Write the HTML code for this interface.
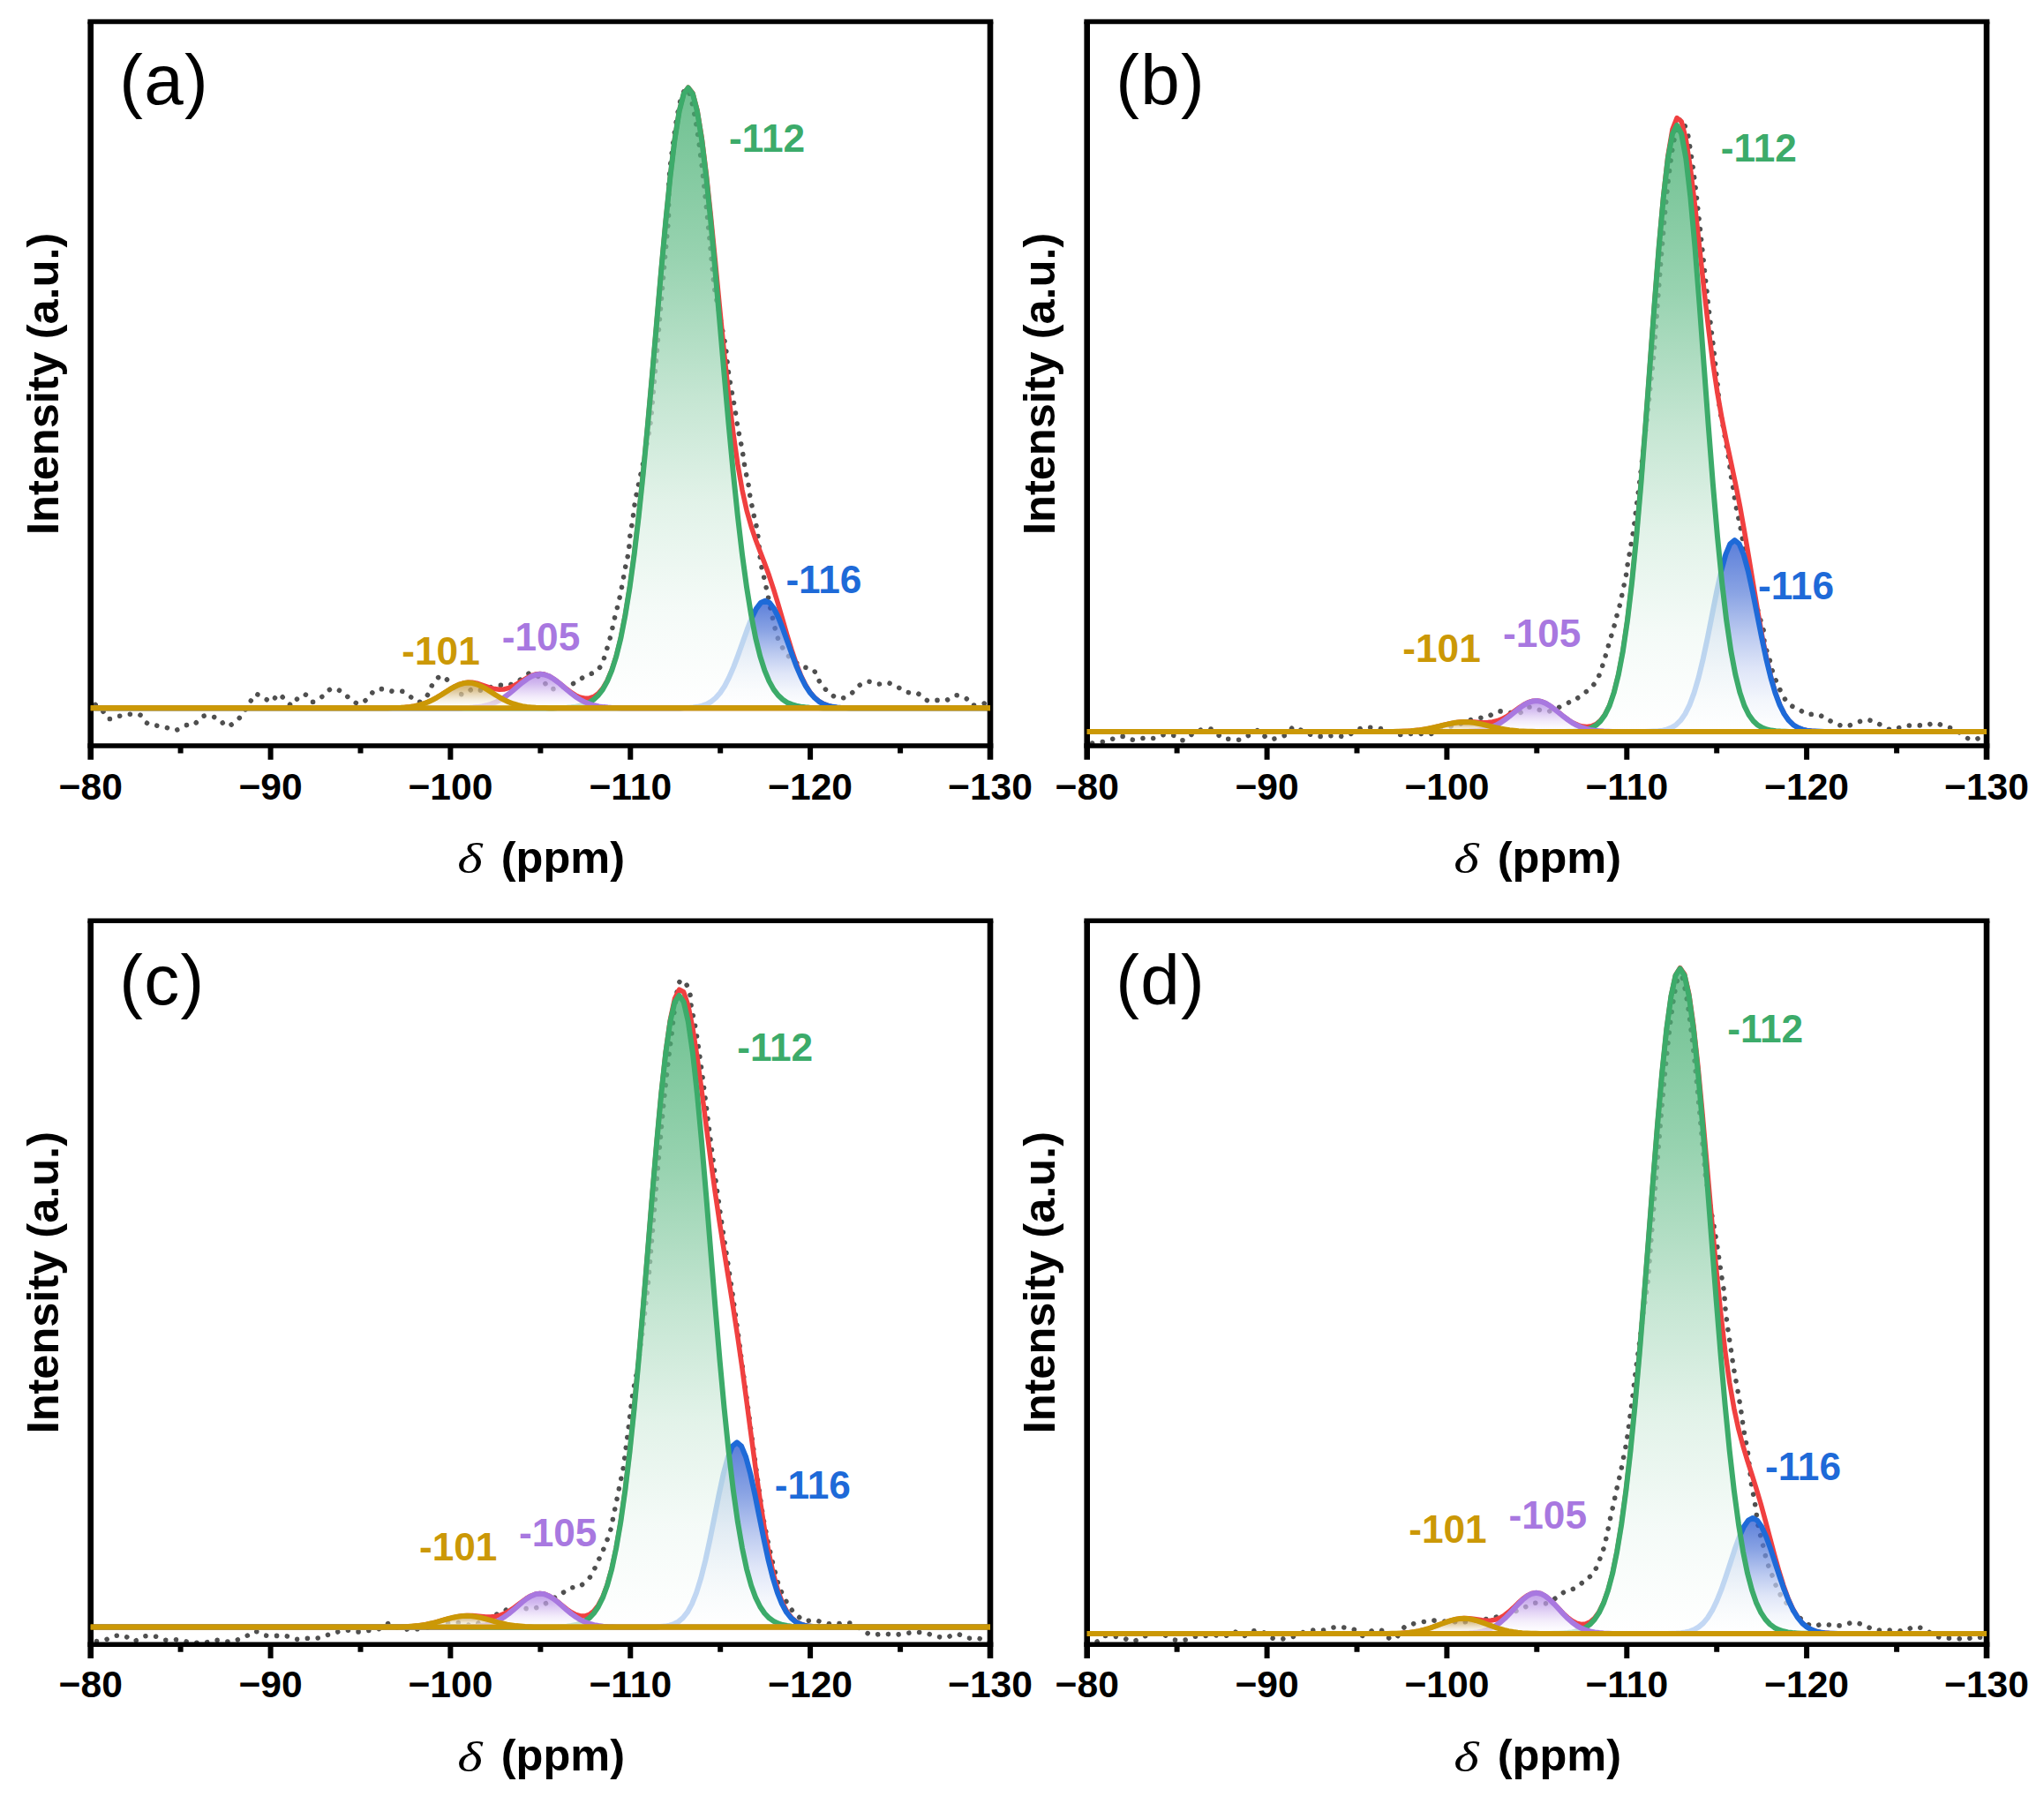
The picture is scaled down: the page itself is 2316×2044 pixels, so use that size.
<!DOCTYPE html>
<html lang="en"><head><meta charset="utf-8"><title>29Si NMR deconvolution</title>
<style>html,body{margin:0;padding:0;background:#fff}svg{display:block}text{font-family:"Liberation Sans",Arial,Helvetica,sans-serif}.tk{font-weight:700;font-size:42.6px;fill:#000;text-anchor:middle}.pl{font-weight:700;font-size:44.2px;text-anchor:middle}.ax{font-weight:700;font-size:50.5px;fill:#000}.pn{font-size:80px;fill:#000;letter-spacing:1.3px}.dl{font-family:"Liberation Serif","Times New Roman",serif;font-style:italic;font-size:48px;fill:#000}</style></head><body>
<svg width="2316" height="2044" viewBox="0 0 2316 2044">
<rect width="2316" height="2044" fill="#fff"/>
<defs>
<linearGradient id="gg" x1="0" y1="0" x2="0" y2="1"><stop offset="0" stop-color="#3cab6a" stop-opacity="0.74"/><stop offset="0.27" stop-color="#73c394" stop-opacity="0.74"/><stop offset="0.5" stop-color="#b1ddc3" stop-opacity="0.74"/><stop offset="0.67" stop-color="#d8eee1" stop-opacity="0.74"/><stop offset="0.84" stop-color="#f1f9f5" stop-opacity="0.74"/><stop offset="1" stop-color="#ffffff" stop-opacity="0.74"/></linearGradient>
<linearGradient id="gb" x1="0" y1="0" x2="0" y2="1"><stop offset="0" stop-color="#2151cc" stop-opacity="0.74"/><stop offset="0.27" stop-color="#5f82da" stop-opacity="0.74"/><stop offset="0.5" stop-color="#a6b9eb" stop-opacity="0.74"/><stop offset="0.67" stop-color="#d3dcf5" stop-opacity="0.74"/><stop offset="0.84" stop-color="#eff3fb" stop-opacity="0.74"/><stop offset="1" stop-color="#ffffff" stop-opacity="0.74"/></linearGradient>
<linearGradient id="gp" x1="0" y1="0" x2="0" y2="1"><stop offset="0" stop-color="#a878e0" stop-opacity="0.72"/><stop offset="0.27" stop-color="#c09ee9" stop-opacity="0.72"/><stop offset="0.5" stop-color="#dcc9f3" stop-opacity="0.72"/><stop offset="0.67" stop-color="#eee4f9" stop-opacity="0.72"/><stop offset="0.84" stop-color="#f9f6fd" stop-opacity="0.72"/><stop offset="1" stop-color="#ffffff" stop-opacity="0.72"/></linearGradient>
<linearGradient id="gy" x1="0" y1="0" x2="0" y2="1"><stop offset="0" stop-color="#b98a2a" stop-opacity="0.72"/><stop offset="0.27" stop-color="#cdab66" stop-opacity="0.72"/><stop offset="0.5" stop-color="#e3d0aa" stop-opacity="0.72"/><stop offset="0.67" stop-color="#f1e8d4" stop-opacity="0.72"/><stop offset="0.84" stop-color="#faf7f0" stop-opacity="0.72"/><stop offset="1" stop-color="#ffffff" stop-opacity="0.72"/></linearGradient>
<clipPath id="cpa"><rect x="102.7" y="24.5" width="1019.3" height="820.5"/></clipPath>
<clipPath id="cpb"><rect x="1231.7" y="24.5" width="1019.3" height="820.5"/></clipPath>
<clipPath id="cpc"><rect x="102.7" y="1043.3" width="1019.3" height="819.9"/></clipPath>
<clipPath id="cpd"><rect x="1231.7" y="1043.3" width="1019.3" height="819.9"/></clipPath>
</defs>
<g id="panel-a">
<g clip-path="url(#cpa)" fill="none" stroke-linejoin="round" stroke-linecap="round">
<path d="M100 790 C101 791.2 103.7 794.5 106.3 796.9 C108.9 799.3 112.9 801.6 115.7 804.5 C118.4 807.4 119.4 813.2 122.5 814.3 C125.6 815.5 130.2 812.4 134.2 811.6 C138.3 810.7 142.9 809.5 147 809.2 C151 809 155.4 808.4 158.7 810 C162 811.7 163.7 817.3 166.5 819.2 C169.4 821.2 172.3 820.9 175.9 821.8 C179.5 822.6 184.2 823.4 188.1 824.3 C191.9 825.2 195.5 827.7 199.2 827.2 C203 826.8 207.1 822.8 210.6 821.8 C214 820.7 216.8 822.5 219.8 821 C222.7 819.4 225.3 814 228.2 812.4 C231.1 810.7 233.6 810.8 237 811.2 C240.3 811.6 245 813 248.3 814.9 C251.7 816.9 253.6 822.7 256.9 822.9 C260.3 823.1 265.5 818.8 268.7 816.1 C271.9 813.4 273.7 810 276.1 806.7 C278.5 803.4 280.9 799.8 283 796.5 C285.1 793.2 286.2 787.7 288.8 786.7 C291.5 785.7 295.5 789.1 298.6 790.5 C301.8 791.8 305.1 795.6 307.8 795 C310.6 794.3 312.7 786.9 315.3 786.5 C317.8 786.2 320.5 790.7 323.1 792.8 C325.7 794.9 328.6 799.5 330.9 799.3 C333.3 799 334.7 793.5 337.2 791.4 C339.7 789.4 343 786.3 345.8 786.9 C348.6 787.6 350.7 795 354 795.3 C357.3 795.7 361.9 791.4 365.6 788.9 C369.2 786.3 372.4 781 375.9 780.1 C379.5 779.2 383.6 781.8 386.9 783.6 C390.2 785.4 392.7 788.8 395.9 791 C399.1 793.3 402.9 797.1 406.3 797.3 C409.6 797.5 413 794.5 416 792 C419 789.6 421.3 784.5 424.3 782.6 C427.2 780.7 430.3 780.6 433.7 780.7 C437 780.8 440.6 782.7 444.4 783.2 C448.3 783.7 452.9 782.3 456.8 783.6 C460.6 784.9 464.4 789.3 467.5 791.2 C470.7 793.2 472.8 796.1 475.7 795.3 C478.6 794.6 482.5 790.3 484.9 786.9 C487.3 783.6 487.8 778.9 490.2 775.4 C492.6 771.9 496.4 766.8 499.2 766 C502.1 765.2 504.4 767.9 507.2 770.7 C510.1 773.4 513.5 779.8 516.4 782.4 C519.3 785.1 521.4 787.1 524.7 786.7 C527.9 786.4 532.5 781.3 536 780.5 C539.5 779.7 541.4 782.7 545.8 782 C550.2 781.4 557.8 777.5 562.4 776.6 C567.1 775.6 570.2 777 573.8 776.6 C577.4 776.1 580.6 775.2 584 773.6 C587.3 772.1 590.6 769 593.7 767.2 C596.8 765.3 599 761.9 602.5 762.5 C606.1 763.1 611.6 767.7 614.9 770.7 C618.1 773.6 619.3 778.6 622.1 780.1 C625 781.6 628.5 780.2 631.9 779.7 C635.3 779.2 639.1 778.3 642.7 777.1 C646.2 776 650 774.5 653.4 772.6 C656.8 770.8 659.8 767.7 663.2 765.8 C666.6 763.9 670.9 763.6 674 761.5 C677.1 759.4 679.8 756.4 681.8 753.1 C683.8 749.7 684.5 745.2 685.7 741.3 C687 737.5 688.1 733.9 689.2 730 C690.4 726.1 691.6 721.8 692.6 717.8 C693.5 713.9 694.2 710 695.1 706.1 C696 702.2 696.9 698.2 697.8 694.4 C698.8 690.5 699.9 686.9 700.8 683 C701.7 679.2 702.5 675.3 703.3 671.3 C704.1 667.3 705 663.1 705.7 659.1 C706.4 655.2 706.9 651.4 707.6 647.4 C708.4 643.4 709.4 639.2 710.2 635.3 C711 631.3 712 627.7 712.5 623.5 C713.1 619.3 712.9 614.6 713.5 610 C714 605.4 715 600.7 715.7 596.1 C716.4 591.4 717.1 586.8 717.8 582.1 C718.4 577.5 718.9 572.8 719.6 568.2 C720.4 563.5 721.4 558.9 722.4 554.2 C723.3 549.6 724.4 544.9 725.4 540.3 C726.4 535.6 727.4 531 728.4 526.3 C729.4 521.7 730.4 517 731.3 512.4 C732.2 507.7 733 503.1 733.8 498.4 C734.7 493.8 735.6 489.1 736.3 484.5 C737 479.9 737.5 475.2 738 470.6 C738.4 465.9 738.8 461.3 739.2 456.6 C739.6 452 740 447.3 740.4 442.7 C740.8 438 741.2 433.4 741.7 428.7 C742.1 424.1 742.5 419.4 742.9 414.8 C743.3 410.1 743.7 405.5 744.1 400.8 C744.5 396.2 744.9 391.5 745.3 386.9 C745.7 382.2 746.1 377.6 746.5 372.9 C746.9 368.3 747.3 363.6 747.7 359 C748.1 354.4 748.5 349.7 748.9 345.1 C749.3 340.4 749.7 335.8 750.1 331.1 C750.5 326.5 750.9 321.8 751.3 317.2 C751.7 312.5 752.1 307.9 752.5 303.2 C752.9 298.6 753.3 293.9 753.8 289.3 C754.2 284.6 754.6 280 755 275.3 C755.5 270.7 755.9 266 756.3 261.4 C756.7 256.7 757.2 252.1 757.4 247.4 C757.6 242.8 757.5 238.1 757.6 233.5 C757.6 228.9 757.7 224.2 757.8 219.6 C757.9 214.9 757.8 210.3 758 205.6 C758.3 201 758.6 196.3 759.1 191.7 C759.5 187 760.2 182.4 760.7 177.7 C761.3 173.1 761.9 168.4 762.5 163.8 C763.1 159.1 763.7 154.5 764.4 149.8 C765.1 145.2 765.8 140.5 766.6 135.9 C767.4 131.2 768.1 126.6 769.2 121.9 C770.2 117.3 771.3 111.6 772.8 108 C774.3 104.4 776.8 100.5 778.3 100.5 C779.8 100.5 780.6 104.4 781.8 108 C783 111.6 784.4 117.6 785.5 122.3 C786.5 127.1 787.3 131.9 788.2 136.7 C789 141.5 789.7 146.3 790.4 151.1 C791.1 155.8 791.8 160.6 792.4 165.4 C793 170.2 793.6 175 794.2 179.8 C794.8 184.5 795.4 189.3 795.9 194.1 C796.5 198.9 797 203.7 797.6 208.4 C798.1 213.2 798.6 218 799.1 222.8 C799.6 227.6 800.1 232.4 800.6 237.2 C801.1 241.9 801.6 246.7 802.1 251.5 C802.5 256.3 803 261.1 803.5 265.9 C804 270.6 804.4 275.4 804.9 280.2 C805.4 285 805.8 289.8 806.3 294.6 C806.7 299.3 807.2 304.1 807.7 308.9 C808.1 313.7 808.4 318.5 809 323.2 C809.7 328 810.5 332.8 811.4 337.6 C812.3 342.4 813.5 347.2 814.4 351.9 C815.4 356.7 816.2 361.5 817.1 366.3 C818 371.1 818.9 375.9 819.8 380.6 C820.7 385.4 821.6 388.3 822.5 395 C823.4 401.7 824.1 412.2 825.3 420.8 C826.5 429.4 828.3 439.2 829.6 446.4 C830.9 453.6 831.9 458 832.9 464 C833.9 470 834.8 477.3 835.6 482.3 C836.4 487.3 837.1 490.1 837.9 494 C838.7 497.9 839.5 501.7 840.2 505.6 C840.9 509.5 841.6 513.4 842.2 517.3 C842.8 521.2 843.2 525 843.9 528.9 C844.6 532.8 845.4 536.6 846.2 540.5 C847 544.4 847.9 548.2 848.6 552.2 C849.3 556.2 849.5 560.6 850.2 564.8 C850.9 568.9 852.1 573.1 852.9 577.1 C853.7 581.1 854.4 584.9 855.2 588.8 C856 592.7 857.1 595.5 857.9 600.4 C858.7 605.3 859.3 612 860 618 C860.7 624 861 631.5 861.8 636.6 C862.6 641.8 863.7 645 864.5 649 C865.4 653 866.2 656.8 867.1 660.7 C867.9 664.6 868.8 668.5 869.6 672.4 C870.4 676.4 871.2 680.6 872 684.6 C872.8 688.6 873.6 692.4 874.5 696.3 C875.4 700.2 876.3 704.1 877.3 708.1 C878.2 712 878.9 715.9 880.2 719.8 C881.5 723.7 883.2 727.8 885.3 731.5 C887.3 735.3 889.8 739.2 892.5 742.3 C895.2 745.4 898.4 747.9 901.3 750.1 C904.3 752.4 906.8 754.2 910.1 755.6 C913.5 757 918.5 756.3 921.3 758.6 C924.1 760.8 924.7 765.8 926.8 769.3 C928.9 772.8 931.3 776.4 934 779.5 C936.7 782.6 939.6 785.8 942.8 787.7 C946 789.7 949.7 791.5 953.2 791.2 C956.7 791 960.5 788.8 964 786.3 C967.4 783.9 970.5 778.9 973.7 776.6 C977 774.2 980 772.5 983.5 772.3 C987 772 991.1 774.7 994.9 775 C998.7 775.3 1002.5 773.1 1006.4 773.8 C1010.3 774.5 1014.5 777.3 1018.2 779.1 C1021.8 780.9 1024.9 783.3 1028.5 784.4 C1032.2 785.5 1036.1 784.2 1039.9 785.8 C1043.6 787.3 1047.4 792.5 1051 793.8 C1054.6 795 1057.9 793.5 1061.4 793.4 C1064.9 793.3 1068.4 794.3 1072.2 793.4 C1075.9 792.4 1079.9 787.9 1083.9 787.7 C1087.9 787.5 1093.2 790.4 1096 792.2 C1098.9 794 1098.5 797.5 1100.9 798.5 C1103.4 799.5 1107.5 798.5 1110.7 798.1 C1113.9 797.7 1116.5 796.3 1120.1 796.1 C1123.7 796 1130.2 796.9 1132.3 797.1" stroke="#4f4f4f" stroke-width="5.6" stroke-dasharray="0.01 11.8"/>
<path d="M102.7 802.3 L107.1 802.3 L112.2 802.3 L117.3 802.3 L122.4 802.3 L127.4 802.3 L132.5 802.3 L137.6 802.3 L142.7 802.3 L147.8 802.3 L152.9 802.3 L158 802.3 L163.1 802.3 L168.2 802.3 L173.3 802.3 L178.4 802.3 L183.5 802.3 L188.6 802.3 L193.7 802.3 L198.8 802.3 L203.9 802.3 L209 802.3 L214.1 802.3 L219.2 802.3 L224.3 802.3 L229.4 802.3 L234.5 802.3 L239.6 802.3 L244.7 802.3 L249.8 802.3 L254.9 802.3 L260 802.3 L265.1 802.3 L270.1 802.3 L275.2 802.3 L280.3 802.3 L285.4 802.3 L290.5 802.3 L295.6 802.3 L300.7 802.3 L305.8 802.3 L310.9 802.3 L316 802.3 L321.1 802.3 L326.2 802.3 L331.3 802.3 L336.4 802.3 L341.5 802.3 L346.6 802.3 L351.7 802.3 L356.8 802.3 L361.9 802.3 L367 802.3 L372.1 802.3 L377.2 802.3 L382.3 802.3 L387.4 802.3 L392.5 802.3 L397.6 802.3 L402.7 802.3 L407.8 802.3 L412.9 802.3 L417.9 802.3 L423 802.3 L428.1 802.3 L433.2 802.3 L438.3 802.2 L443.4 802.1 L448.5 802 L453.6 801.8 L458.7 801.5 L463.8 801 L468.9 800.2 L474 799.1 L479.1 797.7 L484.2 795.8 L489.3 793.4 L494.4 790.7 L499.5 787.6 L504.6 784.3 L509.7 781.1 L514.8 778.1 L519.9 775.7 L525 774 L530.1 773.2 L535.2 773.3 L540.3 774.2 L545.4 775.8 L550.5 777.5 L555.6 779.3 L560.7 780.6 L565.7 781.2 L570.8 781 L575.9 779.7 L581 777.6 L586.1 774.7 L591.2 771.6 L596.3 768.5 L601.4 765.9 L606.5 764.1 L611.6 763.5 L616.7 764.1 L621.8 766 L626.9 768.9 L632 772.6 L637.1 776.7 L642.2 780.8 L647.3 784.7 L652.4 787.9 L657.5 790.2 L662.6 791.3 L667.7 791.2 L672.8 789.4 L677.9 785.7 L683 779.8 L688.1 771.2 L693.2 759.2 L698.3 743.3 L703.4 722.8 L708.4 697.1 L713.5 665.7 L718.6 628.3 L723.7 584.8 L728.8 535.7 L733.9 481.8 L739 424.4 L744.1 365.3 L749.2 306.6 L754.3 250.8 L759.4 200.5 L764.5 158.2 L769.6 126.1 L774.7 106.1 L779.8 99.1 L784.9 105.5 L790 124.8 L795.1 155.7 L800.2 196.2 L805.3 243.8 L810.4 295.6 L815.5 348.7 L820.6 400.4 L825.7 448.2 L830.8 490.4 L835.9 526.2 L841 555.3 L846.1 578.4 L851.2 596.6 L856.2 611.6 L861.3 624.9 L866.4 638.2 L871.5 652.3 L876.6 667.8 L881.7 684.5 L886.8 702.1 L891.9 719.7 L897 736.4 L902.1 751.5 L907.2 764.6 L912.3 775.3 L917.4 783.7 L922.5 789.9 L927.6 794.4 L932.7 797.4 L937.8 799.4 L942.9 800.7 L948 801.4 L953.1 801.8 L958.2 802.1 L963.3 802.2 L968.4 802.2 L973.5 802.3 L978.6 802.3 L983.7 802.3 L988.8 802.3 L993.9 802.3 L998.9 802.3 L1004 802.3 L1009.1 802.3 L1014.2 802.3 L1019.3 802.3 L1024.4 802.3 L1029.5 802.3 L1034.6 802.3 L1039.7 802.3 L1044.8 802.3 L1049.9 802.3 L1055 802.3 L1060.1 802.3 L1065.2 802.3 L1070.3 802.3 L1075.4 802.3 L1080.5 802.3 L1085.6 802.3 L1090.7 802.3 L1095.8 802.3 L1100.9 802.3 L1106 802.3 L1111.1 802.3 L1116.2 802.3 L1121.3 802.3 L1122 802.3" stroke="#f04040" stroke-width="5.5"/>
<path d="M760 802.3 L765.1 802.3 L770.2 802.2 L775.3 802.1 L780.4 801.9 L785.5 801.5 L790.6 800.8 L795.6 799.6 L800.7 797.8 L805.8 795 L810.9 790.8 L816 785 L821.1 777.3 L826.2 767.4 L831.3 755.6 L836.4 742.1 L841.5 727.7 L846.6 713.4 L851.7 700.4 L856.8 689.9 L861.9 683.1 L867 680.8 L872.1 683.1 L877.2 689.9 L882.3 700.4 L887.4 713.4 L892.5 727.7 L897.6 742.1 L902.7 755.6 L907.8 767.4 L912.9 777.3 L918 785 L923.1 790.8 L928.2 795 L933.3 797.8 L938.4 799.6 L943.4 800.8 L948.5 801.5 L953.6 801.9 L958.7 802.1 L963.8 802.2 L968.9 802.3 L974 802.3 L974 802.3 L760 802.3 Z" fill="url(#gb)" stroke="none"/>
<path d="M102.7 802.3 L107.6 802.3 L112.7 802.3 L117.8 802.3 L122.9 802.3 L128 802.3 L133.1 802.3 L138.2 802.3 L143.3 802.3 L148.4 802.3 L153.5 802.3 L158.6 802.3 L163.7 802.3 L168.8 802.3 L173.9 802.3 L179 802.3 L184.1 802.3 L189.2 802.3 L194.3 802.3 L199.4 802.3 L204.5 802.3 L209.6 802.3 L214.6 802.3 L219.7 802.3 L224.8 802.3 L229.9 802.3 L235 802.3 L240.1 802.3 L245.2 802.3 L250.3 802.3 L255.4 802.3 L260.5 802.3 L265.6 802.3 L270.7 802.3 L275.8 802.3 L280.9 802.3 L286 802.3 L291.1 802.3 L296.2 802.3 L301.3 802.3 L306.4 802.3 L311.5 802.3 L316.6 802.3 L321.7 802.3 L326.8 802.3 L331.9 802.3 L337 802.3 L342.1 802.3 L347.2 802.3 L352.3 802.3 L357.3 802.3 L362.4 802.3 L367.5 802.3 L372.6 802.3 L377.7 802.3 L382.8 802.3 L387.9 802.3 L393 802.3 L398.1 802.3 L403.2 802.3 L408.3 802.3 L413.4 802.3 L418.5 802.3 L423.6 802.3 L428.7 802.3 L433.8 802.3 L438.9 802.3 L444 802.3 L449.1 802.3 L454.2 802.3 L459.3 802.3 L464.4 802.3 L469.5 802.3 L474.6 802.3 L479.7 802.3 L484.8 802.3 L489.9 802.3 L495 802.3 L500.1 802.3 L505.1 802.3 L510.2 802.3 L515.3 802.3 L520.4 802.3 L525.5 802.3 L530.6 802.3 L535.7 802.3 L540.8 802.3 L545.9 802.3 L551 802.3 L556.1 802.3 L561.2 802.3 L566.3 802.3 L571.4 802.3 L576.5 802.3 L581.6 802.3 L586.7 802.3 L591.8 802.3 L596.9 802.3 L602 802.3 L607.1 802.3 L612.2 802.3 L617.3 802.3 L622.4 802.3 L627.5 802.3 L632.6 802.3 L637.7 802.3 L642.8 802.3 L647.9 802.3 L652.9 802.3 L658 802.3 L663.1 802.3 L668.2 802.3 L673.3 802.3 L678.4 802.3 L683.5 802.3 L688.6 802.3 L693.7 802.3 L698.8 802.3 L703.9 802.3 L709 802.3 L714.1 802.3 L719.2 802.3 L724.3 802.3 L729.4 802.3 L734.5 802.3 L739.6 802.3 L744.7 802.3 L749.8 802.3 L754.9 802.3 L760 802.3 L765.1 802.3 L770.2 802.2 L775.3 802.1 L780.4 801.9 L785.5 801.5 L790.6 800.8 L795.6 799.6 L800.7 797.8 L805.8 795 L810.9 790.8 L816 785 L821.1 777.3 L826.2 767.4 L831.3 755.6 L836.4 742.1 L841.5 727.7 L846.6 713.4 L851.7 700.4 L856.8 689.9 L861.9 683.1 L867 680.8 L872.1 683.1 L877.2 689.9 L882.3 700.4 L887.4 713.4 L892.5 727.7 L897.6 742.1 L902.7 755.6 L907.8 767.4 L912.9 777.3 L918 785 L923.1 790.8 L928.2 795 L933.3 797.8 L938.4 799.6 L943.4 800.8 L948.5 801.5 L953.6 801.9 L958.7 802.1 L963.8 802.2 L968.9 802.3 L974 802.3 L979.1 802.3 L984.2 802.3 L989.3 802.3 L994.4 802.3 L999.5 802.3 L1004.6 802.3 L1009.7 802.3 L1014.8 802.3 L1019.9 802.3 L1025 802.3 L1030.1 802.3 L1035.2 802.3 L1040.3 802.3 L1045.4 802.3 L1050.5 802.3 L1055.6 802.3 L1060.7 802.3 L1065.8 802.3 L1070.9 802.3 L1076 802.3 L1081.1 802.3 L1086.1 802.3 L1091.2 802.3 L1096.3 802.3 L1101.4 802.3 L1106.5 802.3 L1111.6 802.3 L1116.7 802.3 L1122 802.3" stroke="#1e6ad8" stroke-width="6"/>
<path d="M626.9 802.2 L632 802.1 L637.1 801.9 L642.2 801.7 L647.3 801.3 L652.4 800.7 L657.5 799.7 L662.6 798.1 L667.7 795.9 L672.8 792.5 L677.9 787.8 L683 781.1 L688.1 771.9 L693.2 759.6 L698.3 743.6 L703.4 723 L708.4 697.2 L713.5 665.8 L718.6 628.3 L723.7 584.9 L728.8 535.7 L733.9 481.8 L739 424.4 L744.1 365.3 L749.2 306.6 L754.3 250.8 L759.4 200.5 L764.5 158.2 L769.6 126.2 L774.7 106.3 L779.8 99.5 L784.9 106.3 L790 126.2 L795.1 158.2 L800.2 200.5 L805.3 250.8 L810.4 306.6 L815.5 365.3 L820.6 424.4 L825.7 481.8 L830.8 535.7 L835.9 584.9 L841 628.3 L846.1 665.8 L851.2 697.2 L856.2 723 L861.3 743.6 L866.4 759.6 L871.5 771.9 L876.6 781.1 L881.7 787.8 L886.8 792.5 L891.9 795.9 L897 798.1 L902.1 799.7 L907.2 800.7 L912.3 801.3 L917.4 801.7 L922.5 801.9 L927.6 802.1 L932.7 802.2 L932.7 802.3 L626.9 802.3 Z" fill="url(#gg)" stroke="none"/>
<path d="M102.7 802.3 L107.1 802.3 L112.2 802.3 L117.3 802.3 L122.4 802.3 L127.4 802.3 L132.5 802.3 L137.6 802.3 L142.7 802.3 L147.8 802.3 L152.9 802.3 L158 802.3 L163.1 802.3 L168.2 802.3 L173.3 802.3 L178.4 802.3 L183.5 802.3 L188.6 802.3 L193.7 802.3 L198.8 802.3 L203.9 802.3 L209 802.3 L214.1 802.3 L219.2 802.3 L224.3 802.3 L229.4 802.3 L234.5 802.3 L239.6 802.3 L244.7 802.3 L249.8 802.3 L254.9 802.3 L260 802.3 L265.1 802.3 L270.1 802.3 L275.2 802.3 L280.3 802.3 L285.4 802.3 L290.5 802.3 L295.6 802.3 L300.7 802.3 L305.8 802.3 L310.9 802.3 L316 802.3 L321.1 802.3 L326.2 802.3 L331.3 802.3 L336.4 802.3 L341.5 802.3 L346.6 802.3 L351.7 802.3 L356.8 802.3 L361.9 802.3 L367 802.3 L372.1 802.3 L377.2 802.3 L382.3 802.3 L387.4 802.3 L392.5 802.3 L397.6 802.3 L402.7 802.3 L407.8 802.3 L412.9 802.3 L417.9 802.3 L423 802.3 L428.1 802.3 L433.2 802.3 L438.3 802.3 L443.4 802.3 L448.5 802.3 L453.6 802.3 L458.7 802.3 L463.8 802.3 L468.9 802.3 L474 802.3 L479.1 802.3 L484.2 802.3 L489.3 802.3 L494.4 802.3 L499.5 802.3 L504.6 802.3 L509.7 802.3 L514.8 802.3 L519.9 802.3 L525 802.3 L530.1 802.3 L535.2 802.3 L540.3 802.3 L545.4 802.3 L550.5 802.3 L555.6 802.3 L560.7 802.3 L565.7 802.3 L570.8 802.3 L575.9 802.3 L581 802.3 L586.1 802.3 L591.2 802.3 L596.3 802.3 L601.4 802.3 L606.5 802.3 L611.6 802.3 L616.7 802.3 L621.8 802.2 L626.9 802.2 L632 802.1 L637.1 801.9 L642.2 801.7 L647.3 801.3 L652.4 800.7 L657.5 799.7 L662.6 798.1 L667.7 795.9 L672.8 792.5 L677.9 787.8 L683 781.1 L688.1 771.9 L693.2 759.6 L698.3 743.6 L703.4 723 L708.4 697.2 L713.5 665.8 L718.6 628.3 L723.7 584.9 L728.8 535.7 L733.9 481.8 L739 424.4 L744.1 365.3 L749.2 306.6 L754.3 250.8 L759.4 200.5 L764.5 158.2 L769.6 126.2 L774.7 106.3 L779.8 99.5 L784.9 106.3 L790 126.2 L795.1 158.2 L800.2 200.5 L805.3 250.8 L810.4 306.6 L815.5 365.3 L820.6 424.4 L825.7 481.8 L830.8 535.7 L835.9 584.9 L841 628.3 L846.1 665.8 L851.2 697.2 L856.2 723 L861.3 743.6 L866.4 759.6 L871.5 771.9 L876.6 781.1 L881.7 787.8 L886.8 792.5 L891.9 795.9 L897 798.1 L902.1 799.7 L907.2 800.7 L912.3 801.3 L917.4 801.7 L922.5 801.9 L927.6 802.1 L932.7 802.2 L937.8 802.2 L942.9 802.3 L948 802.3 L953.1 802.3 L958.2 802.3 L963.3 802.3 L968.4 802.3 L973.5 802.3 L978.6 802.3 L983.7 802.3 L988.8 802.3 L993.9 802.3 L998.9 802.3 L1004 802.3 L1009.1 802.3 L1014.2 802.3 L1019.3 802.3 L1024.4 802.3 L1029.5 802.3 L1034.6 802.3 L1039.7 802.3 L1044.8 802.3 L1049.9 802.3 L1055 802.3 L1060.1 802.3 L1065.2 802.3 L1070.3 802.3 L1075.4 802.3 L1080.5 802.3 L1085.6 802.3 L1090.7 802.3 L1095.8 802.3 L1100.9 802.3 L1106 802.3 L1111.1 802.3 L1116.2 802.3 L1121.3 802.3 L1122 802.3" stroke="#3cab6a" stroke-width="6"/>
<path d="M500.2 802.3 L505.3 802.3 L510.4 802.3 L515.5 802.2 L520.6 802.2 L525.7 802.1 L530.8 801.9 L535.9 801.6 L540.9 801.1 L546 800.4 L551.1 799.3 L556.2 797.8 L561.3 795.8 L566.4 793.2 L571.5 790 L576.6 786.2 L581.7 782 L586.8 777.6 L591.9 773.3 L597 769.5 L602.1 766.4 L607.2 764.5 L612.3 763.8 L617.4 764.5 L622.5 766.4 L627.6 769.5 L632.7 773.3 L637.8 777.6 L642.9 782 L648 786.2 L653.1 790 L658.2 793.2 L663.3 795.8 L668.4 797.8 L673.5 799.3 L678.6 800.4 L683.7 801.1 L688.7 801.6 L693.8 801.9 L698.9 802.1 L704 802.2 L709.1 802.2 L714.2 802.3 L719.3 802.3 L724.4 802.3 L724.4 802.3 L500.2 802.3 Z" fill="url(#gp)" stroke="none"/>
<path d="M102.7 802.3 L107.7 802.3 L112.8 802.3 L117.9 802.3 L123 802.3 L128.1 802.3 L133.2 802.3 L138.3 802.3 L143.4 802.3 L148.5 802.3 L153.6 802.3 L158.7 802.3 L163.8 802.3 L168.9 802.3 L174 802.3 L179.1 802.3 L184.2 802.3 L189.3 802.3 L194.4 802.3 L199.5 802.3 L204.6 802.3 L209.7 802.3 L214.8 802.3 L219.9 802.3 L225 802.3 L230.1 802.3 L235.2 802.3 L240.3 802.3 L245.4 802.3 L250.4 802.3 L255.5 802.3 L260.6 802.3 L265.7 802.3 L270.8 802.3 L275.9 802.3 L281 802.3 L286.1 802.3 L291.2 802.3 L296.3 802.3 L301.4 802.3 L306.5 802.3 L311.6 802.3 L316.7 802.3 L321.8 802.3 L326.9 802.3 L332 802.3 L337.1 802.3 L342.2 802.3 L347.3 802.3 L352.4 802.3 L357.5 802.3 L362.6 802.3 L367.7 802.3 L372.8 802.3 L377.9 802.3 L383 802.3 L388.1 802.3 L393.2 802.3 L398.2 802.3 L403.3 802.3 L408.4 802.3 L413.5 802.3 L418.6 802.3 L423.7 802.3 L428.8 802.3 L433.9 802.3 L439 802.3 L444.1 802.3 L449.2 802.3 L454.3 802.3 L459.4 802.3 L464.5 802.3 L469.6 802.3 L474.7 802.3 L479.8 802.3 L484.9 802.3 L490 802.3 L495.1 802.3 L500.2 802.3 L505.3 802.3 L510.4 802.3 L515.5 802.2 L520.6 802.2 L525.7 802.1 L530.8 801.9 L535.9 801.6 L540.9 801.1 L546 800.4 L551.1 799.3 L556.2 797.8 L561.3 795.8 L566.4 793.2 L571.5 790 L576.6 786.2 L581.7 782 L586.8 777.6 L591.9 773.3 L597 769.5 L602.1 766.4 L607.2 764.5 L612.3 763.8 L617.4 764.5 L622.5 766.4 L627.6 769.5 L632.7 773.3 L637.8 777.6 L642.9 782 L648 786.2 L653.1 790 L658.2 793.2 L663.3 795.8 L668.4 797.8 L673.5 799.3 L678.6 800.4 L683.7 801.1 L688.7 801.6 L693.8 801.9 L698.9 802.1 L704 802.2 L709.1 802.2 L714.2 802.3 L719.3 802.3 L724.4 802.3 L729.5 802.3 L734.6 802.3 L739.7 802.3 L744.8 802.3 L749.9 802.3 L755 802.3 L760.1 802.3 L765.2 802.3 L770.3 802.3 L775.4 802.3 L780.5 802.3 L785.6 802.3 L790.7 802.3 L795.8 802.3 L800.9 802.3 L806 802.3 L811.1 802.3 L816.2 802.3 L821.3 802.3 L826.4 802.3 L831.4 802.3 L836.5 802.3 L841.6 802.3 L846.7 802.3 L851.8 802.3 L856.9 802.3 L862 802.3 L867.1 802.3 L872.2 802.3 L877.3 802.3 L882.4 802.3 L887.5 802.3 L892.6 802.3 L897.7 802.3 L902.8 802.3 L907.9 802.3 L913 802.3 L918.1 802.3 L923.2 802.3 L928.3 802.3 L933.4 802.3 L938.5 802.3 L943.6 802.3 L948.7 802.3 L953.8 802.3 L958.9 802.3 L964 802.3 L969.1 802.3 L974.2 802.3 L979.2 802.3 L984.3 802.3 L989.4 802.3 L994.5 802.3 L999.6 802.3 L1004.7 802.3 L1009.8 802.3 L1014.9 802.3 L1020 802.3 L1025.1 802.3 L1030.2 802.3 L1035.3 802.3 L1040.4 802.3 L1045.5 802.3 L1050.6 802.3 L1055.7 802.3 L1060.8 802.3 L1065.9 802.3 L1071 802.3 L1076.1 802.3 L1081.2 802.3 L1086.3 802.3 L1091.4 802.3 L1096.5 802.3 L1101.6 802.3 L1106.7 802.3 L1111.8 802.3 L1116.9 802.3 L1122 802.3" stroke="#a878e0" stroke-width="6"/>
<path d="M418.6 802.3 L423.7 802.3 L428.8 802.3 L433.9 802.3 L439 802.2 L444.1 802.1 L449.2 802 L454.3 801.8 L459.3 801.4 L464.4 800.9 L469.5 800.1 L474.6 799 L479.7 797.5 L484.8 795.5 L489.9 793.1 L495 790.3 L500.1 787.2 L505.2 783.9 L510.3 780.7 L515.4 777.9 L520.5 775.6 L525.6 774.1 L530.7 773.6 L535.8 774.1 L540.9 775.6 L546 777.9 L551.1 780.7 L556.2 783.9 L561.3 787.2 L566.4 790.3 L571.5 793.1 L576.6 795.5 L581.7 797.5 L586.8 799 L591.9 800.1 L597 800.9 L602.1 801.4 L607.1 801.8 L612.2 802 L617.3 802.1 L622.4 802.2 L627.5 802.3 L632.6 802.3 L637.7 802.3 L642.8 802.3 L642.8 802.3 L418.6 802.3 Z" fill="url(#gy)" stroke="none"/>
</g>
<g stroke="#000" fill="none" stroke-linecap="butt">
<path d="M99.4 24.5 H1125.3 M99.4 845 H1125.3" stroke-width="5.6"/>
<path d="M102.7 24.5 V860.8 M1122 24.5 V860.8" stroke-width="6.6"/>
<path d="M306.6 845 V860.8 M510.4 845 V860.8 M714.3 845 V860.8 M918.1 845 V860.8" stroke-width="6"/>
<path d="M204.6 845 V853.6 M408.5 845 V853.6 M612.4 845 V853.6 M816.2 845 V853.6 M1020.1 845 V853.6" stroke-width="6"/>
</g>
<path d="M102.7 802.3 L107.7 802.3 L112.8 802.3 L117.9 802.3 L123 802.3 L128.1 802.3 L133.2 802.3 L138.3 802.3 L143.4 802.3 L148.5 802.3 L153.6 802.3 L158.7 802.3 L163.8 802.3 L168.8 802.3 L173.9 802.3 L179 802.3 L184.1 802.3 L189.2 802.3 L194.3 802.3 L199.4 802.3 L204.5 802.3 L209.6 802.3 L214.7 802.3 L219.8 802.3 L224.9 802.3 L230 802.3 L235.1 802.3 L240.2 802.3 L245.3 802.3 L250.4 802.3 L255.5 802.3 L260.6 802.3 L265.7 802.3 L270.8 802.3 L275.9 802.3 L281 802.3 L286.1 802.3 L291.2 802.3 L296.3 802.3 L301.4 802.3 L306.5 802.3 L311.6 802.3 L316.6 802.3 L321.7 802.3 L326.8 802.3 L331.9 802.3 L337 802.3 L342.1 802.3 L347.2 802.3 L352.3 802.3 L357.4 802.3 L362.5 802.3 L367.6 802.3 L372.7 802.3 L377.8 802.3 L382.9 802.3 L388 802.3 L393.1 802.3 L398.2 802.3 L403.3 802.3 L408.4 802.3 L413.5 802.3 L418.6 802.3 L423.7 802.3 L428.8 802.3 L433.9 802.3 L439 802.2 L444.1 802.1 L449.2 802 L454.3 801.8 L459.3 801.4 L464.4 800.9 L469.5 800.1 L474.6 799 L479.7 797.5 L484.8 795.5 L489.9 793.1 L495 790.3 L500.1 787.2 L505.2 783.9 L510.3 780.7 L515.4 777.9 L520.5 775.6 L525.6 774.1 L530.7 773.6 L535.8 774.1 L540.9 775.6 L546 777.9 L551.1 780.7 L556.2 783.9 L561.3 787.2 L566.4 790.3 L571.5 793.1 L576.6 795.5 L581.7 797.5 L586.8 799 L591.9 800.1 L597 800.9 L602.1 801.4 L607.1 801.8 L612.2 802 L617.3 802.1 L622.4 802.2 L627.5 802.3 L632.6 802.3 L637.7 802.3 L642.8 802.3 L647.9 802.3 L653 802.3 L658.1 802.3 L663.2 802.3 L668.3 802.3 L673.4 802.3 L678.5 802.3 L683.6 802.3 L688.7 802.3 L693.8 802.3 L698.9 802.3 L704 802.3 L709.1 802.3 L714.2 802.3 L719.3 802.3 L724.4 802.3 L729.5 802.3 L734.6 802.3 L739.7 802.3 L744.8 802.3 L749.8 802.3 L754.9 802.3 L760 802.3 L765.1 802.3 L770.2 802.3 L775.3 802.3 L780.4 802.3 L785.5 802.3 L790.6 802.3 L795.7 802.3 L800.8 802.3 L805.9 802.3 L811 802.3 L816.1 802.3 L821.2 802.3 L826.3 802.3 L831.4 802.3 L836.5 802.3 L841.6 802.3 L846.7 802.3 L851.8 802.3 L856.9 802.3 L862 802.3 L867.1 802.3 L872.2 802.3 L877.3 802.3 L882.4 802.3 L887.5 802.3 L892.6 802.3 L897.6 802.3 L902.7 802.3 L907.8 802.3 L912.9 802.3 L918 802.3 L923.1 802.3 L928.2 802.3 L933.3 802.3 L938.4 802.3 L943.5 802.3 L948.6 802.3 L953.7 802.3 L958.8 802.3 L963.9 802.3 L969 802.3 L974.1 802.3 L979.2 802.3 L984.3 802.3 L989.4 802.3 L994.5 802.3 L999.6 802.3 L1004.7 802.3 L1009.8 802.3 L1014.9 802.3 L1020 802.3 L1025.1 802.3 L1030.2 802.3 L1035.3 802.3 L1040.4 802.3 L1045.4 802.3 L1050.5 802.3 L1055.6 802.3 L1060.7 802.3 L1065.8 802.3 L1070.9 802.3 L1076 802.3 L1081.1 802.3 L1086.2 802.3 L1091.3 802.3 L1096.4 802.3 L1101.5 802.3 L1106.6 802.3 L1111.7 802.3 L1116.8 802.3 L1122 802.3" fill="none" stroke="#cb9806" stroke-width="6" stroke-linejoin="round" stroke-linecap="butt"/>
<path d="M102.7 802.3 H1122" fill="none" stroke="#cb9806" stroke-width="6"/>
<text class="tk" x="102.7" y="906">−80</text>
<text class="tk" x="306.6" y="906">−90</text>
<text class="tk" x="510.4" y="906">−100</text>
<text class="tk" x="714.3" y="906">−110</text>
<text class="tk" x="918.1" y="906">−120</text>
<text class="tk" x="1122" y="906">−130</text>
<text class="pl" x="869.1" y="171.7" fill="#3cab6a">-112</text>
<text class="pl" x="933.4" y="672.4" fill="#1e6ad8">-116</text>
<text class="pl" x="613" y="736.6" fill="#a878e0">-105</text>
<text class="pl" x="499.5" y="752.7" fill="#cb9806">-101</text>
<text class="pn" x="135.2" y="118">(a)</text>
<text class="ax" text-anchor="middle" transform="translate(66 434.8) rotate(-90)">Intensity (a.u.)</text>
<text class="dl" transform="translate(518.3 989.4) scale(1.27 1)">δ</text>
<text class="ax" x="567.8" y="989.1">(ppm)</text>
</g>
<g id="panel-b">
<g clip-path="url(#cpb)" fill="none" stroke-linejoin="round" stroke-linecap="round">
<path d="M1225.9 843.2 C1227.8 843 1233.4 842.6 1237.2 842.2 C1241.1 841.8 1245.1 841.4 1249 840.6 C1252.8 839.8 1256.6 838.3 1260.5 837.3 C1264.4 836.3 1268.3 834.2 1272.3 834.4 C1276.2 834.5 1280.2 838 1284.2 838.3 C1288.2 838.6 1292.4 836.6 1296.3 836.3 C1300.2 836 1303.8 837 1307.7 836.3 C1311.6 835.7 1315.8 832.8 1319.8 832.4 C1323.8 832 1328.1 832.7 1331.5 833.8 C1335 834.8 1337 839.1 1340.4 838.7 C1343.7 838.3 1347.9 833.5 1351.5 831.4 C1355.2 829.4 1358.6 827.4 1362.3 826.5 C1366 825.7 1369.9 825 1373.6 826.5 C1377.3 828.1 1381 834.1 1384.4 835.9 C1387.8 837.7 1390.5 837 1394.2 837.3 C1397.8 837.6 1402.4 838.9 1406.3 837.9 C1410.2 836.9 1414.1 833.2 1417.7 831.4 C1421.2 829.7 1424.5 826.7 1427.4 827.5 C1430.4 828.3 1432.2 834.8 1435.3 836.3 C1438.4 837.9 1442.3 837.4 1446 836.7 C1449.8 836 1454.4 834.2 1457.8 832 C1461.1 829.8 1463.1 824.2 1466.2 823.6 C1469.3 823 1472.6 826.9 1476.4 828.5 C1480.1 830.1 1484.4 832.4 1488.5 833.4 C1492.6 834.4 1496.8 834.4 1500.8 834.4 C1504.8 834.4 1508.6 833.4 1512.6 833.4 C1516.5 833.4 1520.6 835.1 1524.3 834.4 C1528.1 833.6 1531.5 830.6 1535.1 828.9 C1538.6 827.2 1541.6 824.8 1545.4 824.2 C1549.3 823.5 1553.8 824.6 1558 825 C1562.1 825.4 1566.3 825.4 1570.3 826.5 C1574.3 827.7 1578.2 831.1 1582 832 C1585.9 832.9 1589.2 832.2 1593.2 832 C1597.1 831.8 1601.7 830.7 1605.7 830.8 C1609.6 830.9 1613.1 832.7 1617 832.4 C1620.9 832 1625.2 830.2 1629.2 828.8 C1633.1 827.4 1637.1 825.3 1640.9 824 C1644.7 822.6 1648.1 822.2 1651.7 821 C1655.3 819.9 1658.8 818.3 1662.4 817.1 C1666 815.9 1669.4 814.6 1673.2 813.8 C1676.9 813 1681 813.5 1684.9 812.2 C1688.8 811 1692.9 807.3 1696.7 806.3 C1700.5 805.4 1703.9 806.3 1707.8 806.7 C1711.7 807.1 1716.2 809.6 1720.2 808.7 C1724.1 807.8 1727.8 802.2 1731.5 801.4 C1735.3 800.7 1739.1 803.2 1742.7 804 C1746.2 804.8 1749.4 806.6 1753 806.3 C1756.6 806.1 1760.3 804.1 1764.2 802.4 C1768.1 800.8 1772.7 798.3 1776.3 796.6 C1779.9 794.8 1782.4 794.1 1785.7 792.1 C1789.1 790 1793.1 787.2 1796.5 784.4 C1799.8 781.7 1803.4 778.6 1805.9 775.6 C1808.4 772.6 1809.9 769.6 1811.5 766.2 C1813.1 762.8 1814.2 758.8 1815.5 755.1 C1816.7 751.3 1817.8 747.6 1819 743.7 C1820.1 739.9 1821.2 735.9 1822.3 732 C1823.5 728.1 1824.7 724.1 1825.8 720.2 C1827 716.3 1828.1 712.3 1829.2 708.5 C1830.2 704.6 1831.1 701 1832.1 697.1 C1833.1 693.3 1834.4 689.4 1835.4 685.4 C1836.4 681.4 1837.1 677.3 1838 673.3 C1838.8 669.2 1839.7 665.1 1840.5 661.1 C1841.3 657.2 1842.3 652.9 1842.9 649.4 C1843.5 645.9 1843.5 643.9 1844.1 640 C1844.8 636.1 1845.8 630.6 1846.6 625.9 C1847.4 621.3 1848.2 616.6 1849 611.9 C1849.8 607.2 1850.6 602.5 1851.2 597.8 C1851.9 593.1 1852.4 588.5 1853 583.8 C1853.6 579.1 1854.2 574.4 1854.8 569.7 C1855.4 565 1856 560.3 1856.5 555.7 C1857.1 551 1857.7 546.3 1858.3 541.6 C1858.8 536.9 1859.4 532.2 1860 527.5 C1860.5 522.9 1861.1 518.2 1861.7 513.5 C1862.2 508.8 1862.8 504.1 1863.4 499.4 C1863.9 494.7 1864.5 490.1 1865 485.4 C1865.6 480.7 1866.1 476 1866.6 471.3 C1867.1 466.6 1867.6 461.9 1868.1 457.3 C1868.6 452.6 1869 447.9 1869.5 443.2 C1870 438.5 1870.5 433.8 1871 429.1 C1871.5 424.5 1872 419.8 1872.5 415.1 C1873 410.4 1873.5 405.7 1873.9 401 C1874.4 396.3 1874.7 391.7 1875 387 C1875.4 382.3 1875.7 377.6 1876 372.9 C1876.4 368.2 1876.7 363.5 1877.1 358.9 C1877.4 354.2 1877.8 349.5 1878.1 344.8 C1878.5 340.1 1878.8 335.4 1879.2 330.7 C1879.6 326.1 1879.9 321.4 1880.3 316.7 C1880.6 312 1881 307.3 1881.4 302.6 C1881.7 297.9 1882.1 293.3 1882.5 288.6 C1882.9 283.9 1883.3 279.2 1883.7 274.5 C1884.1 269.8 1884.5 265.1 1884.9 260.5 C1885.3 255.8 1885.7 251.1 1886.1 246.4 C1886.5 241.7 1887 237 1887.4 232.3 C1887.9 227.7 1888.3 223 1888.8 218.3 C1889.3 213.6 1889.8 208.9 1890.3 204.2 C1890.9 199.5 1891.4 194.9 1892 190.2 C1892.6 185.5 1893.2 180.8 1893.9 176.1 C1894.6 171.4 1895.2 166.7 1896.2 162.1 C1897.1 157.4 1898.2 152.6 1899.6 148 C1900.9 143.4 1902.2 134.5 1904.1 134.5 C1906 134.5 1909.6 143.5 1911.2 148 C1912.9 152.5 1913.2 157.2 1914 161.8 C1914.8 166.4 1915.5 171 1916.2 175.6 C1916.9 180.2 1917.6 184.8 1918.2 189.3 C1918.8 193.9 1919.4 198.5 1920 203.1 C1920.5 207.7 1921.1 212.3 1921.6 216.9 C1922.2 221.5 1922.7 226.1 1923.2 230.7 C1923.7 235.3 1924.2 239.9 1924.7 244.5 C1925.3 249.1 1925.8 253.7 1926.3 258.3 C1926.7 262.9 1927.2 267.4 1927.7 272 C1928.2 276.6 1928.7 281.2 1929.2 285.8 C1929.7 290.4 1930.2 295 1930.7 299.6 C1931.2 304.2 1931.7 308.8 1932.2 313.4 C1932.6 318 1933.1 322.6 1933.7 327.2 C1934.2 331.8 1934.7 336.4 1935.2 341 C1935.7 345.6 1936.2 350.1 1936.7 354.7 C1937.3 359.3 1937.8 363.9 1938.4 368.5 C1938.9 373.1 1939.5 377.7 1940 382.3 C1940.6 386.9 1941.3 391.5 1941.8 396.1 C1942.3 400.7 1942.8 405.3 1943.3 409.9 C1943.8 414.5 1944.2 419.1 1944.7 423.7 C1945.2 428.2 1945.8 432.8 1946.3 437.4 C1946.7 442 1947.1 446.6 1947.5 451.2 C1947.9 455.8 1948.1 460 1948.8 465 C1949.6 470 1950.4 472.2 1952 481 C1953.6 489.8 1957 509.5 1958.4 517.6 C1959.8 525.7 1959.6 525.7 1960.2 529.8 C1960.8 533.9 1961.2 537.9 1961.8 542 C1962.4 546.1 1963.3 550.1 1964 554.2 C1964.7 558.3 1965.1 562.3 1965.8 566.4 C1966.5 570.5 1967.3 574.9 1968 578.6 C1968.7 582.3 1969.5 585.1 1970.2 588.6 C1970.9 592.1 1971.3 593.5 1972.4 599.6 C1973.5 605.7 1975.3 616.3 1977 625 C1978.7 633.7 1980.7 643.5 1982.5 652 C1984.3 660.5 1986.2 668.3 1988 676 C1989.8 683.7 1991.8 691.5 1993.5 698 C1995.2 704.5 1997.3 709.6 1998.3 715 C1999.3 720.4 1998.4 725.6 1999.4 730.3 C2000.3 734.9 2002.8 738.9 2004 743.1 C2005.3 747.2 2005.8 751.3 2006.8 755.2 C2007.9 759.1 2008.9 762.7 2010.3 766.4 C2011.7 770 2013.3 773.1 2015 776.8 C2016.6 780.5 2017.9 784.9 2020.1 788.5 C2022.3 792.1 2025.1 795.9 2028.2 798.5 C2031.3 801.1 2035.6 802.3 2038.7 804.1 C2041.8 805.8 2043.7 808.1 2047.1 809 C2050.5 809.9 2055.5 808.6 2059.2 809.4 C2062.8 810.3 2065.4 812.3 2069 814.1 C2072.6 815.9 2076.9 818.9 2080.8 820.4 C2084.8 821.8 2088.5 823.1 2092.5 822.7 C2096.4 822.4 2100.8 819.4 2104.6 818.3 C2108.4 817.1 2111.5 815.6 2115.1 815.7 C2118.7 815.8 2122.4 817.1 2126.2 818.7 C2130.1 820.4 2134.8 824.6 2138.4 825.7 C2141.9 826.9 2144.5 826.2 2147.7 825.7 C2150.8 825.2 2153.8 823.4 2157.4 822.7 C2161.1 822 2165.7 821.9 2169.8 821.8 C2173.9 821.6 2178.1 822.2 2181.9 821.8 C2185.7 821.4 2188.8 819.2 2192.6 819.4 C2196.4 819.7 2200.7 822.2 2204.7 823.4 C2208.7 824.6 2212.9 825 2216.3 826.9 C2219.8 828.8 2222.3 832.7 2225.7 834.6 C2229 836.4 2232.7 838.3 2236.6 838.1 C2240.5 837.8 2244.9 834.5 2248.9 833.2 C2252.9 831.9 2258.6 830.8 2260.6 830.4" stroke="#4f4f4f" stroke-width="5.6" stroke-dasharray="0.01 11.8"/>
<path d="M1231.7 829 L1232.5 829 L1237.6 829 L1242.7 829 L1247.7 829 L1252.8 829 L1257.9 829 L1263 829 L1268.1 829 L1273.2 829 L1278.3 829 L1283.4 829 L1288.5 829 L1293.6 829 L1298.7 829 L1303.8 829 L1308.9 829 L1314 829 L1319.1 829 L1324.2 829 L1329.3 829 L1334.4 829 L1339.5 829 L1344.6 829 L1349.7 829 L1354.8 829 L1359.9 829 L1365 829 L1370.1 829 L1375.2 829 L1380.3 829 L1385.4 829 L1390.5 829 L1395.5 829 L1400.6 829 L1405.7 829 L1410.8 829 L1415.9 829 L1421 829 L1426.1 829 L1431.2 829 L1436.3 829 L1441.4 829 L1446.5 829 L1451.6 829 L1456.7 829 L1461.8 829 L1466.9 829 L1472 829 L1477.1 829 L1482.2 829 L1487.3 829 L1492.4 829 L1497.5 829 L1502.6 829 L1507.7 829 L1512.8 829 L1517.9 829 L1523 829 L1528.1 829 L1533.2 829 L1538.2 829 L1543.3 829 L1548.4 829 L1553.5 829 L1558.6 829 L1563.7 829 L1568.8 829 L1573.9 828.9 L1579 828.9 L1584.1 828.8 L1589.2 828.6 L1594.3 828.4 L1599.4 828.1 L1604.5 827.6 L1609.6 827 L1614.7 826.2 L1619.8 825.3 L1624.9 824.2 L1630 823 L1635.1 821.8 L1640.2 820.5 L1645.3 819.5 L1650.4 818.6 L1655.5 818.1 L1660.6 817.8 L1665.7 817.9 L1670.8 818.1 L1675.9 818.5 L1681 818.7 L1686 818.6 L1691.1 818 L1696.2 816.8 L1701.3 814.9 L1706.4 812.2 L1711.5 808.9 L1716.6 805.3 L1721.7 801.6 L1726.8 798.3 L1731.9 795.7 L1737 794.2 L1742.1 793.9 L1747.2 795 L1752.3 797.3 L1757.4 800.5 L1762.5 804.4 L1767.6 808.5 L1772.7 812.6 L1777.8 816.3 L1782.9 819.3 L1788 821.6 L1793.1 823.1 L1798.2 823.5 L1803.3 822.8 L1808.4 820.5 L1813.5 816.3 L1818.6 809.6 L1823.7 799.4 L1828.7 784.8 L1833.8 764.5 L1838.9 737.6 L1844 702.8 L1849.1 659.7 L1854.2 608.1 L1859.3 548.6 L1864.4 483.1 L1869.5 413.9 L1874.6 344.5 L1879.7 279.1 L1884.8 221.8 L1889.9 176.6 L1895 146.5 L1900.1 133.5 L1905.2 137.7 L1910.3 157.8 L1915.4 190.9 L1920.5 233.1 L1925.6 280 L1930.7 327.4 L1935.8 372 L1940.9 411.6 L1946 445.5 L1951.1 474.4 L1956.2 499.7 L1961.3 523.5 L1966.4 547.7 L1971.5 573.6 L1976.5 601.8 L1981.6 631.8 L1986.7 662.8 L1991.8 693.3 L1996.9 721.9 L2002 747.4 L2007.1 769.1 L2012.2 786.7 L2017.3 800.2 L2022.4 810.1 L2027.5 817.1 L2032.6 821.8 L2037.7 824.8 L2042.8 826.6 L2047.9 827.7 L2053 828.3 L2058.1 828.7 L2063.2 828.8 L2068.3 828.9 L2073.4 829 L2078.5 829 L2083.6 829 L2088.7 829 L2093.8 829 L2098.9 829 L2104 829 L2109.1 829 L2114.2 829 L2119.2 829 L2124.3 829 L2129.4 829 L2134.5 829 L2139.6 829 L2144.7 829 L2149.8 829 L2154.9 829 L2160 829 L2165.1 829 L2170.2 829 L2175.3 829 L2180.4 829 L2185.5 829 L2190.6 829 L2195.7 829 L2200.8 829 L2205.9 829 L2211 829 L2216.1 829 L2221.2 829 L2226.3 829 L2231.4 829 L2236.5 829 L2241.6 829 L2246.7 829 L2251 829" stroke="#f04040" stroke-width="5.5"/>
<path d="M1858.5 829 L1863.6 828.9 L1868.7 828.8 L1873.8 828.6 L1878.9 828.3 L1884 827.6 L1889.1 826.4 L1894.1 824.4 L1899.2 821.2 L1904.3 816.2 L1909.4 808.9 L1914.5 798.6 L1919.6 784.9 L1924.7 767.4 L1929.8 746.2 L1934.9 722.1 L1940 696.3 L1945.1 670.6 L1950.2 647.2 L1955.3 628.4 L1960.4 616.2 L1965.5 612 L1970.6 616.2 L1975.7 628.4 L1980.8 647.2 L1985.9 670.6 L1991 696.3 L1996.1 722.1 L2001.2 746.2 L2006.3 767.4 L2011.4 784.9 L2016.5 798.6 L2021.6 808.9 L2026.7 816.2 L2031.8 821.2 L2036.9 824.4 L2041.9 826.4 L2047 827.6 L2052.1 828.3 L2057.2 828.6 L2062.3 828.8 L2067.4 828.9 L2072.5 829 L2072.5 829 L1858.5 829 Z" fill="url(#gb)" stroke="none"/>
<path d="M1231.7 829 L1236.7 829 L1241.8 829 L1246.9 829 L1252 829 L1257.1 829 L1262.2 829 L1267.3 829 L1272.4 829 L1277.5 829 L1282.6 829 L1287.7 829 L1292.8 829 L1297.9 829 L1303 829 L1308.1 829 L1313.1 829 L1318.2 829 L1323.3 829 L1328.4 829 L1333.5 829 L1338.6 829 L1343.7 829 L1348.8 829 L1353.9 829 L1359 829 L1364.1 829 L1369.2 829 L1374.3 829 L1379.4 829 L1384.5 829 L1389.6 829 L1394.7 829 L1399.8 829 L1404.9 829 L1410 829 L1415.1 829 L1420.2 829 L1425.3 829 L1430.4 829 L1435.5 829 L1440.6 829 L1445.7 829 L1450.8 829 L1455.8 829 L1460.9 829 L1466 829 L1471.1 829 L1476.2 829 L1481.3 829 L1486.4 829 L1491.5 829 L1496.6 829 L1501.7 829 L1506.8 829 L1511.9 829 L1517 829 L1522.1 829 L1527.2 829 L1532.3 829 L1537.4 829 L1542.5 829 L1547.6 829 L1552.7 829 L1557.8 829 L1562.9 829 L1568 829 L1573.1 829 L1578.2 829 L1583.3 829 L1588.4 829 L1593.5 829 L1598.6 829 L1603.6 829 L1608.7 829 L1613.8 829 L1618.9 829 L1624 829 L1629.1 829 L1634.2 829 L1639.3 829 L1644.4 829 L1649.5 829 L1654.6 829 L1659.7 829 L1664.8 829 L1669.9 829 L1675 829 L1680.1 829 L1685.2 829 L1690.3 829 L1695.4 829 L1700.5 829 L1705.6 829 L1710.7 829 L1715.8 829 L1720.9 829 L1726 829 L1731.1 829 L1736.2 829 L1741.3 829 L1746.4 829 L1751.4 829 L1756.5 829 L1761.6 829 L1766.7 829 L1771.8 829 L1776.9 829 L1782 829 L1787.1 829 L1792.2 829 L1797.3 829 L1802.4 829 L1807.5 829 L1812.6 829 L1817.7 829 L1822.8 829 L1827.9 829 L1833 829 L1838.1 829 L1843.2 829 L1848.3 829 L1853.4 829 L1858.5 829 L1863.6 828.9 L1868.7 828.8 L1873.8 828.6 L1878.9 828.3 L1884 827.6 L1889.1 826.4 L1894.1 824.4 L1899.2 821.2 L1904.3 816.2 L1909.4 808.9 L1914.5 798.6 L1919.6 784.9 L1924.7 767.4 L1929.8 746.2 L1934.9 722.1 L1940 696.3 L1945.1 670.6 L1950.2 647.2 L1955.3 628.4 L1960.4 616.2 L1965.5 612 L1970.6 616.2 L1975.7 628.4 L1980.8 647.2 L1985.9 670.6 L1991 696.3 L1996.1 722.1 L2001.2 746.2 L2006.3 767.4 L2011.4 784.9 L2016.5 798.6 L2021.6 808.9 L2026.7 816.2 L2031.8 821.2 L2036.9 824.4 L2041.9 826.4 L2047 827.6 L2052.1 828.3 L2057.2 828.6 L2062.3 828.8 L2067.4 828.9 L2072.5 829 L2077.6 829 L2082.7 829 L2087.8 829 L2092.9 829 L2098 829 L2103.1 829 L2108.2 829 L2113.3 829 L2118.4 829 L2123.5 829 L2128.6 829 L2133.7 829 L2138.8 829 L2143.9 829 L2149 829 L2154.1 829 L2159.2 829 L2164.3 829 L2169.4 829 L2174.5 829 L2179.6 829 L2184.6 829 L2189.7 829 L2194.8 829 L2199.9 829 L2205 829 L2210.1 829 L2215.2 829 L2220.3 829 L2225.4 829 L2230.5 829 L2235.6 829 L2240.7 829 L2245.8 829 L2251 829" stroke="#1e6ad8" stroke-width="6"/>
<path d="M1772.7 828.9 L1777.8 828.8 L1782.9 828.6 L1788 828.2 L1793.1 827.6 L1798.2 826.5 L1803.3 824.6 L1808.4 821.7 L1813.5 817 L1818.6 810 L1823.7 799.6 L1828.7 784.9 L1833.8 764.6 L1838.9 737.6 L1844 702.8 L1849.1 659.7 L1854.2 608.1 L1859.3 548.7 L1864.4 483.2 L1869.5 414.1 L1874.6 345 L1879.7 279.9 L1884.8 223.4 L1889.9 179.4 L1895 151.6 L1900.1 142 L1905.2 151.6 L1910.3 179.4 L1915.4 223.4 L1920.5 279.9 L1925.6 345 L1930.7 414.1 L1935.8 483.2 L1940.9 548.7 L1946 608.1 L1951.1 659.7 L1956.2 702.8 L1961.3 737.6 L1966.4 764.6 L1971.5 784.9 L1976.5 799.6 L1981.6 810 L1986.7 817 L1991.8 821.7 L1996.9 824.6 L2002 826.5 L2007.1 827.6 L2012.2 828.2 L2017.3 828.6 L2022.4 828.8 L2027.5 828.9 L2027.5 829 L1772.7 829 Z" fill="url(#gg)" stroke="none"/>
<path d="M1231.7 829 L1232.5 829 L1237.6 829 L1242.7 829 L1247.7 829 L1252.8 829 L1257.9 829 L1263 829 L1268.1 829 L1273.2 829 L1278.3 829 L1283.4 829 L1288.5 829 L1293.6 829 L1298.7 829 L1303.8 829 L1308.9 829 L1314 829 L1319.1 829 L1324.2 829 L1329.3 829 L1334.4 829 L1339.5 829 L1344.6 829 L1349.7 829 L1354.8 829 L1359.9 829 L1365 829 L1370.1 829 L1375.2 829 L1380.3 829 L1385.4 829 L1390.5 829 L1395.5 829 L1400.6 829 L1405.7 829 L1410.8 829 L1415.9 829 L1421 829 L1426.1 829 L1431.2 829 L1436.3 829 L1441.4 829 L1446.5 829 L1451.6 829 L1456.7 829 L1461.8 829 L1466.9 829 L1472 829 L1477.1 829 L1482.2 829 L1487.3 829 L1492.4 829 L1497.5 829 L1502.6 829 L1507.7 829 L1512.8 829 L1517.9 829 L1523 829 L1528.1 829 L1533.2 829 L1538.2 829 L1543.3 829 L1548.4 829 L1553.5 829 L1558.6 829 L1563.7 829 L1568.8 829 L1573.9 829 L1579 829 L1584.1 829 L1589.2 829 L1594.3 829 L1599.4 829 L1604.5 829 L1609.6 829 L1614.7 829 L1619.8 829 L1624.9 829 L1630 829 L1635.1 829 L1640.2 829 L1645.3 829 L1650.4 829 L1655.5 829 L1660.6 829 L1665.7 829 L1670.8 829 L1675.9 829 L1681 829 L1686 829 L1691.1 829 L1696.2 829 L1701.3 829 L1706.4 829 L1711.5 829 L1716.6 829 L1721.7 829 L1726.8 829 L1731.9 829 L1737 829 L1742.1 829 L1747.2 829 L1752.3 829 L1757.4 829 L1762.5 829 L1767.6 828.9 L1772.7 828.9 L1777.8 828.8 L1782.9 828.6 L1788 828.2 L1793.1 827.6 L1798.2 826.5 L1803.3 824.6 L1808.4 821.7 L1813.5 817 L1818.6 810 L1823.7 799.6 L1828.7 784.9 L1833.8 764.6 L1838.9 737.6 L1844 702.8 L1849.1 659.7 L1854.2 608.1 L1859.3 548.7 L1864.4 483.2 L1869.5 414.1 L1874.6 345 L1879.7 279.9 L1884.8 223.4 L1889.9 179.4 L1895 151.6 L1900.1 142 L1905.2 151.6 L1910.3 179.4 L1915.4 223.4 L1920.5 279.9 L1925.6 345 L1930.7 414.1 L1935.8 483.2 L1940.9 548.7 L1946 608.1 L1951.1 659.7 L1956.2 702.8 L1961.3 737.6 L1966.4 764.6 L1971.5 784.9 L1976.5 799.6 L1981.6 810 L1986.7 817 L1991.8 821.7 L1996.9 824.6 L2002 826.5 L2007.1 827.6 L2012.2 828.2 L2017.3 828.6 L2022.4 828.8 L2027.5 828.9 L2032.6 828.9 L2037.7 829 L2042.8 829 L2047.9 829 L2053 829 L2058.1 829 L2063.2 829 L2068.3 829 L2073.4 829 L2078.5 829 L2083.6 829 L2088.7 829 L2093.8 829 L2098.9 829 L2104 829 L2109.1 829 L2114.2 829 L2119.2 829 L2124.3 829 L2129.4 829 L2134.5 829 L2139.6 829 L2144.7 829 L2149.8 829 L2154.9 829 L2160 829 L2165.1 829 L2170.2 829 L2175.3 829 L2180.4 829 L2185.5 829 L2190.6 829 L2195.7 829 L2200.8 829 L2205.9 829 L2211 829 L2216.1 829 L2221.2 829 L2226.3 829 L2231.4 829 L2236.5 829 L2241.6 829 L2246.7 829 L2251 829" stroke="#3cab6a" stroke-width="6"/>
<path d="M1633.8 829 L1638.9 829 L1644 829 L1649.1 828.9 L1654.2 828.9 L1659.3 828.8 L1664.4 828.6 L1669.4 828.2 L1674.5 827.7 L1679.6 826.9 L1684.7 825.7 L1689.8 824 L1694.9 821.8 L1700 819 L1705.1 815.5 L1710.2 811.7 L1715.3 807.5 L1720.4 803.4 L1725.5 799.6 L1730.6 796.6 L1735.7 794.7 L1740.8 794 L1745.9 794.7 L1751 796.6 L1756.1 799.6 L1761.2 803.4 L1766.3 807.5 L1771.4 811.7 L1776.5 815.5 L1781.6 819 L1786.7 821.8 L1791.8 824 L1796.9 825.7 L1802 826.9 L1807.1 827.7 L1812.2 828.2 L1817.2 828.6 L1822.3 828.8 L1827.4 828.9 L1832.5 828.9 L1837.6 829 L1842.7 829 L1847.8 829 L1847.8 829 L1633.8 829 Z" fill="url(#gp)" stroke="none"/>
<path d="M1231.7 829 L1236.2 829 L1241.3 829 L1246.4 829 L1251.5 829 L1256.6 829 L1261.7 829 L1266.8 829 L1271.9 829 L1277 829 L1282.1 829 L1287.2 829 L1292.3 829 L1297.4 829 L1302.5 829 L1307.6 829 L1312.7 829 L1317.8 829 L1322.9 829 L1328 829 L1333.1 829 L1338.2 829 L1343.3 829 L1348.4 829 L1353.5 829 L1358.6 829 L1363.7 829 L1368.8 829 L1373.9 829 L1378.9 829 L1384 829 L1389.1 829 L1394.2 829 L1399.3 829 L1404.4 829 L1409.5 829 L1414.6 829 L1419.7 829 L1424.8 829 L1429.9 829 L1435 829 L1440.1 829 L1445.2 829 L1450.3 829 L1455.4 829 L1460.5 829 L1465.6 829 L1470.7 829 L1475.8 829 L1480.9 829 L1486 829 L1491.1 829 L1496.2 829 L1501.3 829 L1506.4 829 L1511.5 829 L1516.6 829 L1521.7 829 L1526.7 829 L1531.8 829 L1536.9 829 L1542 829 L1547.1 829 L1552.2 829 L1557.3 829 L1562.4 829 L1567.5 829 L1572.6 829 L1577.7 829 L1582.8 829 L1587.9 829 L1593 829 L1598.1 829 L1603.2 829 L1608.3 829 L1613.4 829 L1618.5 829 L1623.6 829 L1628.7 829 L1633.8 829 L1638.9 829 L1644 829 L1649.1 828.9 L1654.2 828.9 L1659.3 828.8 L1664.4 828.6 L1669.4 828.2 L1674.5 827.7 L1679.6 826.9 L1684.7 825.7 L1689.8 824 L1694.9 821.8 L1700 819 L1705.1 815.5 L1710.2 811.7 L1715.3 807.5 L1720.4 803.4 L1725.5 799.6 L1730.6 796.6 L1735.7 794.7 L1740.8 794 L1745.9 794.7 L1751 796.6 L1756.1 799.6 L1761.2 803.4 L1766.3 807.5 L1771.4 811.7 L1776.5 815.5 L1781.6 819 L1786.7 821.8 L1791.8 824 L1796.9 825.7 L1802 826.9 L1807.1 827.7 L1812.2 828.2 L1817.2 828.6 L1822.3 828.8 L1827.4 828.9 L1832.5 828.9 L1837.6 829 L1842.7 829 L1847.8 829 L1852.9 829 L1858 829 L1863.1 829 L1868.2 829 L1873.3 829 L1878.4 829 L1883.5 829 L1888.6 829 L1893.7 829 L1898.8 829 L1903.9 829 L1909 829 L1914.1 829 L1919.2 829 L1924.3 829 L1929.4 829 L1934.5 829 L1939.6 829 L1944.7 829 L1949.8 829 L1954.9 829 L1959.9 829 L1965 829 L1970.1 829 L1975.2 829 L1980.3 829 L1985.4 829 L1990.5 829 L1995.6 829 L2000.7 829 L2005.8 829 L2010.9 829 L2016 829 L2021.1 829 L2026.2 829 L2031.3 829 L2036.4 829 L2041.5 829 L2046.6 829 L2051.7 829 L2056.8 829 L2061.9 829 L2067 829 L2072.1 829 L2077.2 829 L2082.3 829 L2087.4 829 L2092.5 829 L2097.6 829 L2102.7 829 L2107.7 829 L2112.8 829 L2117.9 829 L2123 829 L2128.1 829 L2133.2 829 L2138.3 829 L2143.4 829 L2148.5 829 L2153.6 829 L2158.7 829 L2163.8 829 L2168.9 829 L2174 829 L2179.1 829 L2184.2 829 L2189.3 829 L2194.4 829 L2199.5 829 L2204.6 829 L2209.7 829 L2214.8 829 L2219.9 829 L2225 829 L2230.1 829 L2235.2 829 L2240.3 829 L2245.4 829 L2250.4 829 L2251 829" stroke="#a878e0" stroke-width="6"/>
<path d="M1547.4 829 L1552.5 829 L1557.6 829 L1562.7 829 L1567.8 829 L1572.9 828.9 L1578 828.9 L1583.1 828.8 L1588.1 828.7 L1593.2 828.5 L1598.3 828.2 L1603.4 827.7 L1608.5 827.2 L1613.6 826.4 L1618.7 825.5 L1623.8 824.4 L1628.9 823.3 L1634 822 L1639.1 820.8 L1644.2 819.7 L1649.3 818.8 L1654.4 818.3 L1659.5 818.1 L1664.6 818.3 L1669.7 818.8 L1674.8 819.7 L1679.9 820.8 L1685 822 L1690.1 823.3 L1695.2 824.4 L1700.3 825.5 L1705.4 826.4 L1710.5 827.2 L1715.6 827.7 L1720.7 828.2 L1725.8 828.5 L1730.9 828.7 L1735.9 828.8 L1741 828.9 L1746.1 828.9 L1751.2 829 L1756.3 829 L1761.4 829 L1766.5 829 L1771.6 829 L1771.6 829 L1547.4 829 Z" fill="url(#gy)" stroke="none"/>
</g>
<g stroke="#000" fill="none" stroke-linecap="butt">
<path d="M1228.4 24.5 H2254.3 M1228.4 845 H2254.3" stroke-width="5.6"/>
<path d="M1231.7 24.5 V860.8 M2251 24.5 V860.8" stroke-width="6.6"/>
<path d="M1435.6 845 V860.8 M1639.4 845 V860.8 M1843.3 845 V860.8 M2047.1 845 V860.8" stroke-width="6"/>
<path d="M1333.6 845 V853.6 M1537.5 845 V853.6 M1741.3 845 V853.6 M1945.2 845 V853.6 M2149.1 845 V853.6" stroke-width="6"/>
</g>
<path d="M1231.7 829 L1236.5 829 L1241.6 829 L1246.7 829 L1251.8 829 L1256.9 829 L1262 829 L1267.1 829 L1272.2 829 L1277.3 829 L1282.4 829 L1287.5 829 L1292.6 829 L1297.6 829 L1302.7 829 L1307.8 829 L1312.9 829 L1318 829 L1323.1 829 L1328.2 829 L1333.3 829 L1338.4 829 L1343.5 829 L1348.6 829 L1353.7 829 L1358.8 829 L1363.9 829 L1369 829 L1374.1 829 L1379.2 829 L1384.3 829 L1389.4 829 L1394.5 829 L1399.6 829 L1404.7 829 L1409.8 829 L1414.9 829 L1420 829 L1425.1 829 L1430.2 829 L1435.3 829 L1440.4 829 L1445.4 829 L1450.5 829 L1455.6 829 L1460.7 829 L1465.8 829 L1470.9 829 L1476 829 L1481.1 829 L1486.2 829 L1491.3 829 L1496.4 829 L1501.5 829 L1506.6 829 L1511.7 829 L1516.8 829 L1521.9 829 L1527 829 L1532.1 829 L1537.2 829 L1542.3 829 L1547.4 829 L1552.5 829 L1557.6 829 L1562.7 829 L1567.8 829 L1572.9 828.9 L1578 828.9 L1583.1 828.8 L1588.1 828.7 L1593.2 828.5 L1598.3 828.2 L1603.4 827.7 L1608.5 827.2 L1613.6 826.4 L1618.7 825.5 L1623.8 824.4 L1628.9 823.3 L1634 822 L1639.1 820.8 L1644.2 819.7 L1649.3 818.8 L1654.4 818.3 L1659.5 818.1 L1664.6 818.3 L1669.7 818.8 L1674.8 819.7 L1679.9 820.8 L1685 822 L1690.1 823.3 L1695.2 824.4 L1700.3 825.5 L1705.4 826.4 L1710.5 827.2 L1715.6 827.7 L1720.7 828.2 L1725.8 828.5 L1730.9 828.7 L1735.9 828.8 L1741 828.9 L1746.1 828.9 L1751.2 829 L1756.3 829 L1761.4 829 L1766.5 829 L1771.6 829 L1776.7 829 L1781.8 829 L1786.9 829 L1792 829 L1797.1 829 L1802.2 829 L1807.3 829 L1812.4 829 L1817.5 829 L1822.6 829 L1827.7 829 L1832.8 829 L1837.9 829 L1843 829 L1848.1 829 L1853.2 829 L1858.3 829 L1863.4 829 L1868.5 829 L1873.6 829 L1878.6 829 L1883.7 829 L1888.8 829 L1893.9 829 L1899 829 L1904.1 829 L1909.2 829 L1914.3 829 L1919.4 829 L1924.5 829 L1929.6 829 L1934.7 829 L1939.8 829 L1944.9 829 L1950 829 L1955.1 829 L1960.2 829 L1965.3 829 L1970.4 829 L1975.5 829 L1980.6 829 L1985.7 829 L1990.8 829 L1995.9 829 L2001 829 L2006.1 829 L2011.2 829 L2016.3 829 L2021.4 829 L2026.4 829 L2031.5 829 L2036.6 829 L2041.7 829 L2046.8 829 L2051.9 829 L2057 829 L2062.1 829 L2067.2 829 L2072.3 829 L2077.4 829 L2082.5 829 L2087.6 829 L2092.7 829 L2097.8 829 L2102.9 829 L2108 829 L2113.1 829 L2118.2 829 L2123.3 829 L2128.4 829 L2133.5 829 L2138.6 829 L2143.7 829 L2148.8 829 L2153.9 829 L2159 829 L2164.1 829 L2169.2 829 L2174.2 829 L2179.3 829 L2184.4 829 L2189.5 829 L2194.6 829 L2199.7 829 L2204.8 829 L2209.9 829 L2215 829 L2220.1 829 L2225.2 829 L2230.3 829 L2235.4 829 L2240.5 829 L2245.6 829 L2251 829" fill="none" stroke="#cb9806" stroke-width="6" stroke-linejoin="round" stroke-linecap="butt"/>
<path d="M1231.7 829 H2251" fill="none" stroke="#cb9806" stroke-width="6"/>
<text class="tk" x="1231.7" y="906">−80</text>
<text class="tk" x="1435.6" y="906">−90</text>
<text class="tk" x="1639.4" y="906">−100</text>
<text class="tk" x="1843.3" y="906">−110</text>
<text class="tk" x="2047.1" y="906">−120</text>
<text class="tk" x="2251" y="906">−130</text>
<text class="pl" x="1992.8" y="183" fill="#3cab6a">-112</text>
<text class="pl" x="2035" y="679.3" fill="#1e6ad8">-116</text>
<text class="pl" x="1747.2" y="733.4" fill="#a878e0">-105</text>
<text class="pl" x="1633.5" y="749.6" fill="#cb9806">-101</text>
<text class="pn" x="1264.2" y="118">(b)</text>
<text class="ax" text-anchor="middle" transform="translate(1195 434.8) rotate(-90)">Intensity (a.u.)</text>
<text class="dl" transform="translate(1647.3 989.4) scale(1.27 1)">δ</text>
<text class="ax" x="1696.8" y="989.1">(ppm)</text>
</g>
<g id="panel-c">
<g clip-path="url(#cpc)" fill="none" stroke-linejoin="round" stroke-linecap="round">
<path d="M97.8 1860.2 C99.5 1860.1 104.4 1860 108 1859.6 C111.6 1859.3 115.5 1858.9 119.4 1857.9 C123.2 1856.8 127.3 1854 131.1 1853.4 C134.8 1852.7 138.4 1853 141.9 1854 C145.3 1855 148.2 1859.3 151.8 1859.3 C155.5 1859.3 159.8 1854.9 163.8 1854 C167.7 1853.1 171.6 1853.3 175.5 1854 C179.4 1854.7 183.5 1857.7 187.3 1858.3 C191 1858.9 194.4 1857.4 198.2 1857.7 C202.1 1858 206.4 1859.3 210.4 1859.8 C214.3 1860.4 218.2 1861.1 222.1 1861.2 C226 1861.4 230.2 1861.3 233.8 1860.8 C237.5 1860.3 240.5 1858.4 244.2 1858.3 C248 1858.2 252.4 1860.2 256.3 1860.2 C260.3 1860.2 263.8 1859.4 267.7 1858.3 C271.5 1857.2 275.9 1855.2 279.4 1853.6 C283 1852 285.5 1848.6 289 1848.5 C292.6 1848.4 296.8 1852.2 300.8 1853 C304.8 1853.8 309.1 1853.3 313.1 1853.4 C317.1 1853.5 321 1853.1 324.8 1853.8 C328.7 1854.4 332.3 1856.9 336.2 1857.3 C340.1 1857.7 344.3 1856.5 348.3 1856.3 C352.4 1856.1 356.4 1856.6 360.5 1855.9 C364.5 1855.2 368.7 1853.2 372.4 1852 C376.1 1850.9 378.8 1849.9 382.6 1849.1 C386.3 1848.3 390.8 1847.2 394.7 1847.1 C398.5 1847.1 401.8 1848.8 405.7 1848.9 C409.5 1848.9 413.8 1848.1 417.8 1847.5 C421.8 1847 425.5 1847 429.5 1845.6 C433.5 1844.2 437.8 1839 441.9 1839.1 C445.9 1839.2 449.7 1845.1 453.6 1846.1 C457.5 1847.2 461.4 1845.7 465.3 1845.6 C469.3 1845.5 473.1 1846 477.1 1845.6 C481 1845.1 485.1 1843.9 489 1843 C493 1842.1 496.9 1840.8 500.8 1840 C504.7 1839.3 508.6 1838.6 512.5 1838.5 C516.4 1838.3 520.4 1838.5 524.3 1839.1 C528.2 1839.6 532.3 1842.5 536 1842 C539.8 1841.5 543.1 1838.1 546.8 1836.1 C550.5 1834.1 554.5 1831.2 558.1 1829.9 C561.7 1828.5 565 1829.3 568.3 1827.9 C571.6 1826.5 574.3 1822.4 578.1 1821.4 C581.8 1820.5 586.7 1821.8 590.8 1822 C594.9 1822.3 598.9 1823.4 602.9 1822.8 C607 1822.2 611.4 1820.4 615.3 1818.5 C619.1 1816.7 622.4 1813.8 626 1811.7 C629.6 1809.5 633.4 1807.5 636.8 1805.4 C640.2 1803.3 642.9 1800.6 646.2 1799.3 C649.4 1798 652.8 1799.4 656.4 1797.6 C659.9 1795.7 664.7 1791.4 667.5 1788.2 C670.4 1784.9 671.6 1781.5 673.4 1778 C675.2 1774.5 676.8 1770.7 678.5 1767 C680.1 1763.4 681.8 1759.9 683.4 1756.3 C684.9 1752.7 686.3 1749.2 687.7 1745.5 C689 1741.9 690.5 1738.2 691.6 1734.4 C692.7 1730.5 693.3 1726.5 694.1 1722.6 C694.9 1718.7 695.7 1714.9 696.5 1710.9 C697.3 1706.9 698.2 1702.8 699 1698.7 C699.8 1694.7 700.6 1690.4 701.4 1686.4 C702.2 1682.4 703.1 1678.6 703.9 1674.7 C704.7 1670.8 705.6 1667 706.3 1662.9 C706.9 1658.8 707.4 1654.5 708 1650 C708.6 1645.5 709.2 1640.7 709.8 1636 C710.4 1631.4 711 1626.7 711.6 1622.1 C712.2 1617.4 712.8 1612.7 713.3 1608.1 C713.9 1603.4 714.4 1598.8 715 1594.1 C715.6 1589.5 716.1 1584.8 716.8 1580.1 C717.5 1575.5 718.5 1570.8 719.4 1566.2 C720.3 1561.5 721.2 1556.9 722 1552.2 C722.8 1547.5 723.5 1542.9 724.2 1538.2 C724.9 1533.6 725.4 1528.9 726.1 1524.3 C726.7 1519.6 727.3 1515 727.9 1510.3 C728.5 1505.6 729.1 1501 729.6 1496.3 C730.2 1491.7 730.7 1487 731.2 1482.4 C731.7 1477.7 732.3 1473 732.8 1468.4 C733.3 1463.7 733.9 1459.1 734.3 1454.4 C734.8 1449.8 735.2 1445.1 735.6 1440.4 C736 1435.8 736.4 1431.1 736.8 1426.5 C737.2 1421.8 737.5 1417.2 737.9 1412.5 C738.3 1407.8 738.7 1403.2 739.1 1398.5 C739.5 1393.9 739.8 1389.2 740.2 1384.6 C740.6 1379.9 741 1375.2 741.4 1370.6 C741.8 1365.9 742.2 1361.3 742.6 1356.6 C742.9 1352 743.3 1347.3 743.7 1342.6 C744.1 1338 744.5 1333.3 744.9 1328.7 C745.3 1324 745.7 1319.4 746.1 1314.7 C746.5 1310 746.9 1305.4 747.3 1300.7 C747.8 1296.1 748.2 1291.4 748.6 1286.8 C749 1282.1 749.4 1277.5 749.9 1272.8 C750.3 1268.1 750.8 1263.5 751.2 1258.8 C751.6 1254.2 752.1 1249.5 752.6 1244.9 C753 1240.2 753.5 1235.5 754 1230.9 C754.5 1226.2 755 1221.6 755.5 1216.9 C756 1212.3 756.5 1207.6 757.1 1202.9 C757.6 1198.3 758.2 1193.6 758.8 1189 C759.4 1184.3 759.9 1181.2 760.7 1175 C761.4 1168.8 762.4 1159.2 763.3 1152 C764.2 1144.8 765 1137.6 765.8 1132 C766.6 1126.4 767.3 1122.1 768.3 1118.5 C769.2 1114.9 769.9 1110.9 771.5 1110.5 C773.1 1110.1 776.2 1113.1 778 1115.9 C779.8 1118.7 781.1 1123.2 782 1127.2 C782.9 1131.2 782.3 1134.5 783.2 1140 C784 1145.5 786 1153.3 787.2 1160 C788.4 1166.7 789.4 1173.3 790.4 1180 C791.4 1186.7 792.4 1193.3 793.3 1200 C794.2 1206.7 795.1 1213.3 796 1220 C796.8 1226.7 797.7 1233.3 798.5 1240 C799.4 1246.7 800.2 1253.3 801.1 1260 C801.9 1266.7 802.7 1273.3 803.6 1280 C804.4 1286.7 805.3 1293.3 806.1 1300 C807 1306.7 807.8 1313.3 808.7 1320 C809.5 1326.7 810.4 1333.3 811.3 1340 C812.2 1346.7 813.1 1353.3 814.1 1360 C815 1366.7 815.9 1373.3 816.9 1380 C817.9 1386.7 818.9 1393.3 819.9 1400 C820.9 1406.7 821.9 1413.3 823 1420 C824 1426.7 825.1 1433.3 826.1 1440 C827.1 1446.7 828.1 1453.3 829.1 1460 C830.1 1466.7 831.1 1473.3 832 1480 C833 1486.7 833.9 1493.3 834.8 1500 C835.7 1506.7 836.6 1513.3 837.5 1520 C838.4 1526.7 839.2 1533.3 840.1 1540 C841 1546.7 841.9 1553.3 842.8 1560 C843.7 1566.7 844.6 1573.3 845.5 1580 C846.4 1586.7 847.3 1593.3 848.2 1600 C849.1 1606.7 849.9 1613.3 850.8 1620 C851.7 1626.7 852.6 1633.3 853.5 1640 C854.4 1646.7 855.2 1653.3 856.2 1660 C857.1 1666.7 858 1673.3 858.9 1680 C859.9 1686.7 860.8 1693.3 861.8 1700 C862.8 1706.7 863.7 1713.3 864.8 1720 C866 1726.7 867.4 1733.3 868.7 1740 C870.1 1746.7 871.5 1753.3 873 1760 C874.5 1766.7 876.1 1773.3 877.9 1780 C879.7 1786.7 881.1 1793.3 883.8 1800 C886.5 1806.7 891 1815.2 894.1 1820 C897.2 1824.9 899.5 1826.5 902.3 1829.2 C905.1 1831.9 907.9 1835.2 911.1 1836.3 C914.4 1837.4 918.2 1835.4 921.9 1835.7 C925.6 1836 929.5 1837.4 933.2 1838.2 C937 1839.1 940.5 1840.5 944.4 1840.6 C948.3 1840.7 952.8 1838.6 956.7 1838.6 C960.6 1838.6 964.3 1839 967.9 1840.6 C971.5 1842.2 974.7 1846.1 978.2 1848 C981.7 1850 985.1 1851.8 988.8 1852.3 C992.6 1852.8 996.7 1851 1000.7 1851 C1004.8 1851 1008.9 1852.3 1012.9 1852.3 C1016.9 1852.3 1020.6 1851.4 1024.6 1851 C1028.6 1850.5 1032.9 1849.5 1036.9 1849.4 C1041 1849.3 1045.2 1849.6 1049.1 1850.4 C1053 1851.1 1056.4 1853.1 1060.2 1853.9 C1064.1 1854.7 1068 1855.7 1072 1855.3 C1075.9 1854.8 1079.9 1851.3 1083.9 1851.4 C1087.9 1851.4 1092 1855 1096 1855.9 C1100.1 1856.7 1104.2 1855.6 1108.2 1856.2 C1112.2 1856.9 1115.9 1859.1 1119.9 1859.8 C1123.9 1860.4 1130.2 1860.1 1132.3 1860.2" stroke="#4f4f4f" stroke-width="5.6" stroke-dasharray="0.01 11.8"/>
<path d="M102.7 1843.6 L107.1 1843.6 L112.2 1843.6 L117.2 1843.6 L122.3 1843.6 L127.4 1843.6 L132.5 1843.6 L137.6 1843.6 L142.7 1843.6 L147.8 1843.6 L152.9 1843.6 L158 1843.6 L163.1 1843.6 L168.2 1843.6 L173.3 1843.6 L178.4 1843.6 L183.5 1843.6 L188.6 1843.6 L193.7 1843.6 L198.8 1843.6 L203.9 1843.6 L209 1843.6 L214.1 1843.6 L219.2 1843.6 L224.3 1843.6 L229.4 1843.6 L234.5 1843.6 L239.6 1843.6 L244.7 1843.6 L249.8 1843.6 L254.9 1843.6 L259.9 1843.6 L265 1843.6 L270.1 1843.6 L275.2 1843.6 L280.3 1843.6 L285.4 1843.6 L290.5 1843.6 L295.6 1843.6 L300.7 1843.6 L305.8 1843.6 L310.9 1843.6 L316 1843.6 L321.1 1843.6 L326.2 1843.6 L331.3 1843.6 L336.4 1843.6 L341.5 1843.6 L346.6 1843.6 L351.7 1843.6 L356.8 1843.6 L361.9 1843.6 L367 1843.6 L372.1 1843.6 L377.2 1843.6 L382.3 1843.6 L387.4 1843.6 L392.5 1843.6 L397.6 1843.6 L402.7 1843.6 L407.7 1843.6 L412.8 1843.6 L417.9 1843.6 L423 1843.6 L428.1 1843.6 L433.2 1843.6 L438.3 1843.6 L443.4 1843.5 L448.5 1843.4 L453.6 1843.3 L458.7 1843.2 L463.8 1842.9 L468.9 1842.5 L474 1842 L479.1 1841.2 L484.2 1840.3 L489.3 1839.2 L494.4 1837.9 L499.5 1836.5 L504.6 1835 L509.7 1833.6 L514.8 1832.4 L519.9 1831.4 L525 1830.8 L530.1 1830.5 L535.2 1830.6 L540.3 1831 L545.4 1831.5 L550.5 1831.9 L555.5 1832 L560.6 1831.6 L565.7 1830.5 L570.8 1828.7 L575.9 1826 L581 1822.6 L586.1 1818.8 L591.2 1814.9 L596.3 1811.2 L601.4 1808.2 L606.5 1806.2 L611.6 1805.5 L616.7 1806.1 L621.8 1808.1 L626.9 1811.1 L632 1815 L637.1 1819.1 L642.2 1823.2 L647.3 1826.7 L652.4 1829.5 L657.5 1831 L662.6 1831.1 L667.7 1829.4 L672.8 1825.5 L677.9 1818.9 L683 1809.2 L688.1 1795.6 L693.2 1777.4 L698.2 1753.8 L703.3 1724.2 L708.4 1688.1 L713.5 1645.1 L718.6 1595.7 L723.7 1540.3 L728.8 1480.4 L733.9 1417.8 L739 1354.8 L744.1 1294.3 L749.2 1239 L754.3 1191.9 L759.4 1155.5 L764.5 1131.5 L769.6 1121.1 L774.7 1124 L779.8 1139.3 L784.9 1165 L790 1198.2 L795.1 1236 L800.2 1275.6 L805.3 1314.7 L810.4 1351.6 L815.5 1386.1 L820.6 1418.5 L825.7 1450 L830.8 1481.8 L835.9 1515.1 L841 1550.6 L846 1587.9 L851.1 1626.3 L856.2 1664.3 L861.3 1700.4 L866.4 1733.1 L871.5 1761.3 L876.6 1784.6 L881.7 1802.9 L886.8 1816.6 L891.9 1826.3 L897 1833 L902.1 1837.3 L907.2 1840.1 L912.3 1841.7 L917.4 1842.6 L922.5 1843.1 L927.6 1843.4 L932.7 1843.5 L937.8 1843.5 L942.9 1843.6 L948 1843.6 L953.1 1843.6 L958.2 1843.6 L963.3 1843.6 L968.4 1843.6 L973.5 1843.6 L978.6 1843.6 L983.7 1843.6 L988.7 1843.6 L993.8 1843.6 L998.9 1843.6 L1004 1843.6 L1009.1 1843.6 L1014.2 1843.6 L1019.3 1843.6 L1024.4 1843.6 L1029.5 1843.6 L1034.6 1843.6 L1039.7 1843.6 L1044.8 1843.6 L1049.9 1843.6 L1055 1843.6 L1060.1 1843.6 L1065.2 1843.6 L1070.3 1843.6 L1075.4 1843.6 L1080.5 1843.6 L1085.6 1843.6 L1090.7 1843.6 L1095.8 1843.6 L1100.9 1843.6 L1106 1843.6 L1111.1 1843.6 L1116.2 1843.6 L1121.3 1843.6 L1122 1843.6" stroke="#f04040" stroke-width="5.5"/>
<path d="M733.1 1843.5 L738.2 1843.5 L743.3 1843.4 L748.4 1843.1 L753.5 1842.6 L758.6 1841.6 L763.6 1840 L768.7 1837.4 L773.8 1833.1 L778.9 1826.7 L784 1817.4 L789.1 1804.7 L794.2 1788.2 L799.3 1768 L804.4 1744.5 L809.5 1719.1 L814.6 1693.5 L819.7 1670 L824.8 1651 L829.9 1638.6 L835 1634.3 L840.1 1638.6 L845.2 1651 L850.3 1670 L855.4 1693.5 L860.5 1719.1 L865.6 1744.5 L870.7 1768 L875.8 1788.2 L880.9 1804.7 L886 1817.4 L891.1 1826.7 L896.2 1833.1 L901.3 1837.4 L906.4 1840 L911.4 1841.6 L916.5 1842.6 L921.6 1843.1 L926.7 1843.4 L931.8 1843.5 L936.9 1843.5 L936.9 1843.6 L733.1 1843.6 Z" fill="url(#gb)" stroke="none"/>
<path d="M102.7 1843.6 L106.2 1843.6 L111.3 1843.6 L116.4 1843.6 L121.5 1843.6 L126.6 1843.6 L131.7 1843.6 L136.8 1843.6 L141.9 1843.6 L147 1843.6 L152.1 1843.6 L157.2 1843.6 L162.3 1843.6 L167.4 1843.6 L172.5 1843.6 L177.6 1843.6 L182.6 1843.6 L187.7 1843.6 L192.8 1843.6 L197.9 1843.6 L203 1843.6 L208.1 1843.6 L213.2 1843.6 L218.3 1843.6 L223.4 1843.6 L228.5 1843.6 L233.6 1843.6 L238.7 1843.6 L243.8 1843.6 L248.9 1843.6 L254 1843.6 L259.1 1843.6 L264.2 1843.6 L269.3 1843.6 L274.4 1843.6 L279.5 1843.6 L284.6 1843.6 L289.7 1843.6 L294.8 1843.6 L299.9 1843.6 L305 1843.6 L310.1 1843.6 L315.2 1843.6 L320.3 1843.6 L325.3 1843.6 L330.4 1843.6 L335.5 1843.6 L340.6 1843.6 L345.7 1843.6 L350.8 1843.6 L355.9 1843.6 L361 1843.6 L366.1 1843.6 L371.2 1843.6 L376.3 1843.6 L381.4 1843.6 L386.5 1843.6 L391.6 1843.6 L396.7 1843.6 L401.8 1843.6 L406.9 1843.6 L412 1843.6 L417.1 1843.6 L422.2 1843.6 L427.3 1843.6 L432.4 1843.6 L437.5 1843.6 L442.6 1843.6 L447.7 1843.6 L452.8 1843.6 L457.9 1843.6 L463 1843.6 L468.1 1843.6 L473.1 1843.6 L478.2 1843.6 L483.3 1843.6 L488.4 1843.6 L493.5 1843.6 L498.6 1843.6 L503.7 1843.6 L508.8 1843.6 L513.9 1843.6 L519 1843.6 L524.1 1843.6 L529.2 1843.6 L534.3 1843.6 L539.4 1843.6 L544.5 1843.6 L549.6 1843.6 L554.7 1843.6 L559.8 1843.6 L564.9 1843.6 L570 1843.6 L575.1 1843.6 L580.2 1843.6 L585.3 1843.6 L590.4 1843.6 L595.5 1843.6 L600.6 1843.6 L605.7 1843.6 L610.8 1843.6 L615.9 1843.6 L620.9 1843.6 L626 1843.6 L631.1 1843.6 L636.2 1843.6 L641.3 1843.6 L646.4 1843.6 L651.5 1843.6 L656.6 1843.6 L661.7 1843.6 L666.8 1843.6 L671.9 1843.6 L677 1843.6 L682.1 1843.6 L687.2 1843.6 L692.3 1843.6 L697.4 1843.6 L702.5 1843.6 L707.6 1843.6 L712.7 1843.6 L717.8 1843.6 L722.9 1843.6 L728 1843.6 L733.1 1843.5 L738.2 1843.5 L743.3 1843.4 L748.4 1843.1 L753.5 1842.6 L758.6 1841.6 L763.6 1840 L768.7 1837.4 L773.8 1833.1 L778.9 1826.7 L784 1817.4 L789.1 1804.7 L794.2 1788.2 L799.3 1768 L804.4 1744.5 L809.5 1719.1 L814.6 1693.5 L819.7 1670 L824.8 1651 L829.9 1638.6 L835 1634.3 L840.1 1638.6 L845.2 1651 L850.3 1670 L855.4 1693.5 L860.5 1719.1 L865.6 1744.5 L870.7 1768 L875.8 1788.2 L880.9 1804.7 L886 1817.4 L891.1 1826.7 L896.2 1833.1 L901.3 1837.4 L906.4 1840 L911.4 1841.6 L916.5 1842.6 L921.6 1843.1 L926.7 1843.4 L931.8 1843.5 L936.9 1843.5 L942 1843.6 L947.1 1843.6 L952.2 1843.6 L957.3 1843.6 L962.4 1843.6 L967.5 1843.6 L972.6 1843.6 L977.7 1843.6 L982.8 1843.6 L987.9 1843.6 L993 1843.6 L998.1 1843.6 L1003.2 1843.6 L1008.3 1843.6 L1013.4 1843.6 L1018.5 1843.6 L1023.6 1843.6 L1028.7 1843.6 L1033.8 1843.6 L1038.9 1843.6 L1044 1843.6 L1049.1 1843.6 L1054.1 1843.6 L1059.2 1843.6 L1064.3 1843.6 L1069.4 1843.6 L1074.5 1843.6 L1079.6 1843.6 L1084.7 1843.6 L1089.8 1843.6 L1094.9 1843.6 L1100 1843.6 L1105.1 1843.6 L1110.2 1843.6 L1115.3 1843.6 L1120.4 1843.6 L1122 1843.6" stroke="#1e6ad8" stroke-width="6"/>
<path d="M626.9 1843.4 L632 1843.3 L637.1 1843 L642.2 1842.7 L647.3 1842 L652.4 1841 L657.5 1839.4 L662.6 1836.9 L667.7 1833.3 L672.8 1828 L677.9 1820.5 L683 1810.2 L688.1 1796.2 L693.2 1777.7 L698.2 1754 L703.3 1724.3 L708.4 1688.1 L713.5 1645.2 L718.6 1595.7 L723.7 1540.4 L728.8 1480.5 L733.9 1417.9 L739 1355 L744.1 1294.5 L749.2 1239.6 L754.3 1193 L759.4 1157.6 L764.5 1135.4 L769.6 1127.9 L774.7 1135.4 L779.8 1157.6 L784.9 1193 L790 1239.6 L795.1 1294.5 L800.2 1355 L805.3 1417.9 L810.4 1480.5 L815.5 1540.4 L820.6 1595.7 L825.7 1645.2 L830.8 1688.1 L835.9 1724.3 L841 1754 L846 1777.7 L851.1 1796.2 L856.2 1810.2 L861.3 1820.5 L866.4 1828 L871.5 1833.3 L876.6 1836.9 L881.7 1839.4 L886.8 1841 L891.9 1842 L897 1842.7 L902.1 1843 L907.2 1843.3 L912.3 1843.4 L912.3 1843.6 L626.9 1843.6 Z" fill="url(#gg)" stroke="none"/>
<path d="M102.7 1843.6 L107.1 1843.6 L112.2 1843.6 L117.2 1843.6 L122.3 1843.6 L127.4 1843.6 L132.5 1843.6 L137.6 1843.6 L142.7 1843.6 L147.8 1843.6 L152.9 1843.6 L158 1843.6 L163.1 1843.6 L168.2 1843.6 L173.3 1843.6 L178.4 1843.6 L183.5 1843.6 L188.6 1843.6 L193.7 1843.6 L198.8 1843.6 L203.9 1843.6 L209 1843.6 L214.1 1843.6 L219.2 1843.6 L224.3 1843.6 L229.4 1843.6 L234.5 1843.6 L239.6 1843.6 L244.7 1843.6 L249.8 1843.6 L254.9 1843.6 L259.9 1843.6 L265 1843.6 L270.1 1843.6 L275.2 1843.6 L280.3 1843.6 L285.4 1843.6 L290.5 1843.6 L295.6 1843.6 L300.7 1843.6 L305.8 1843.6 L310.9 1843.6 L316 1843.6 L321.1 1843.6 L326.2 1843.6 L331.3 1843.6 L336.4 1843.6 L341.5 1843.6 L346.6 1843.6 L351.7 1843.6 L356.8 1843.6 L361.9 1843.6 L367 1843.6 L372.1 1843.6 L377.2 1843.6 L382.3 1843.6 L387.4 1843.6 L392.5 1843.6 L397.6 1843.6 L402.7 1843.6 L407.7 1843.6 L412.8 1843.6 L417.9 1843.6 L423 1843.6 L428.1 1843.6 L433.2 1843.6 L438.3 1843.6 L443.4 1843.6 L448.5 1843.6 L453.6 1843.6 L458.7 1843.6 L463.8 1843.6 L468.9 1843.6 L474 1843.6 L479.1 1843.6 L484.2 1843.6 L489.3 1843.6 L494.4 1843.6 L499.5 1843.6 L504.6 1843.6 L509.7 1843.6 L514.8 1843.6 L519.9 1843.6 L525 1843.6 L530.1 1843.6 L535.2 1843.6 L540.3 1843.6 L545.4 1843.6 L550.5 1843.6 L555.5 1843.6 L560.6 1843.6 L565.7 1843.6 L570.8 1843.6 L575.9 1843.6 L581 1843.6 L586.1 1843.6 L591.2 1843.6 L596.3 1843.6 L601.4 1843.6 L606.5 1843.6 L611.6 1843.6 L616.7 1843.5 L621.8 1843.5 L626.9 1843.4 L632 1843.3 L637.1 1843 L642.2 1842.7 L647.3 1842 L652.4 1841 L657.5 1839.4 L662.6 1836.9 L667.7 1833.3 L672.8 1828 L677.9 1820.5 L683 1810.2 L688.1 1796.2 L693.2 1777.7 L698.2 1754 L703.3 1724.3 L708.4 1688.1 L713.5 1645.2 L718.6 1595.7 L723.7 1540.4 L728.8 1480.5 L733.9 1417.9 L739 1355 L744.1 1294.5 L749.2 1239.6 L754.3 1193 L759.4 1157.6 L764.5 1135.4 L769.6 1127.9 L774.7 1135.4 L779.8 1157.6 L784.9 1193 L790 1239.6 L795.1 1294.5 L800.2 1355 L805.3 1417.9 L810.4 1480.5 L815.5 1540.4 L820.6 1595.7 L825.7 1645.2 L830.8 1688.1 L835.9 1724.3 L841 1754 L846 1777.7 L851.1 1796.2 L856.2 1810.2 L861.3 1820.5 L866.4 1828 L871.5 1833.3 L876.6 1836.9 L881.7 1839.4 L886.8 1841 L891.9 1842 L897 1842.7 L902.1 1843 L907.2 1843.3 L912.3 1843.4 L917.4 1843.5 L922.5 1843.5 L927.6 1843.6 L932.7 1843.6 L937.8 1843.6 L942.9 1843.6 L948 1843.6 L953.1 1843.6 L958.2 1843.6 L963.3 1843.6 L968.4 1843.6 L973.5 1843.6 L978.6 1843.6 L983.7 1843.6 L988.7 1843.6 L993.8 1843.6 L998.9 1843.6 L1004 1843.6 L1009.1 1843.6 L1014.2 1843.6 L1019.3 1843.6 L1024.4 1843.6 L1029.5 1843.6 L1034.6 1843.6 L1039.7 1843.6 L1044.8 1843.6 L1049.9 1843.6 L1055 1843.6 L1060.1 1843.6 L1065.2 1843.6 L1070.3 1843.6 L1075.4 1843.6 L1080.5 1843.6 L1085.6 1843.6 L1090.7 1843.6 L1095.8 1843.6 L1100.9 1843.6 L1106 1843.6 L1111.1 1843.6 L1116.2 1843.6 L1121.3 1843.6 L1122 1843.6" stroke="#3cab6a" stroke-width="6"/>
<path d="M504.9 1843.6 L510 1843.6 L515.1 1843.6 L520.2 1843.5 L525.3 1843.4 L530.4 1843.3 L535.5 1843.1 L540.5 1842.7 L545.6 1842 L550.7 1841.1 L555.8 1839.7 L560.9 1837.9 L566 1835.4 L571.1 1832.3 L576.2 1828.6 L581.3 1824.4 L586.4 1819.9 L591.5 1815.5 L596.6 1811.5 L601.7 1808.4 L606.8 1806.3 L611.9 1805.6 L617 1806.3 L622.1 1808.4 L627.2 1811.5 L632.3 1815.5 L637.4 1819.9 L642.5 1824.4 L647.6 1828.6 L652.7 1832.3 L657.8 1835.4 L662.9 1837.9 L668 1839.7 L673.1 1841.1 L678.2 1842 L683.3 1842.7 L688.3 1843.1 L693.4 1843.3 L698.5 1843.4 L703.6 1843.5 L708.7 1843.6 L713.8 1843.6 L718.9 1843.6 L718.9 1843.6 L504.9 1843.6 Z" fill="url(#gp)" stroke="none"/>
<path d="M102.7 1843.6 L107.3 1843.6 L112.4 1843.6 L117.5 1843.6 L122.6 1843.6 L127.7 1843.6 L132.8 1843.6 L137.9 1843.6 L143 1843.6 L148.1 1843.6 L153.2 1843.6 L158.3 1843.6 L163.4 1843.6 L168.5 1843.6 L173.6 1843.6 L178.7 1843.6 L183.8 1843.6 L188.9 1843.6 L194 1843.6 L199.1 1843.6 L204.2 1843.6 L209.3 1843.6 L214.4 1843.6 L219.5 1843.6 L224.6 1843.6 L229.7 1843.6 L234.8 1843.6 L239.9 1843.6 L245 1843.6 L250 1843.6 L255.1 1843.6 L260.2 1843.6 L265.3 1843.6 L270.4 1843.6 L275.5 1843.6 L280.6 1843.6 L285.7 1843.6 L290.8 1843.6 L295.9 1843.6 L301 1843.6 L306.1 1843.6 L311.2 1843.6 L316.3 1843.6 L321.4 1843.6 L326.5 1843.6 L331.6 1843.6 L336.7 1843.6 L341.8 1843.6 L346.9 1843.6 L352 1843.6 L357.1 1843.6 L362.2 1843.6 L367.3 1843.6 L372.4 1843.6 L377.5 1843.6 L382.6 1843.6 L387.7 1843.6 L392.8 1843.6 L397.8 1843.6 L402.9 1843.6 L408 1843.6 L413.1 1843.6 L418.2 1843.6 L423.3 1843.6 L428.4 1843.6 L433.5 1843.6 L438.6 1843.6 L443.7 1843.6 L448.8 1843.6 L453.9 1843.6 L459 1843.6 L464.1 1843.6 L469.2 1843.6 L474.3 1843.6 L479.4 1843.6 L484.5 1843.6 L489.6 1843.6 L494.7 1843.6 L499.8 1843.6 L504.9 1843.6 L510 1843.6 L515.1 1843.6 L520.2 1843.5 L525.3 1843.4 L530.4 1843.3 L535.5 1843.1 L540.5 1842.7 L545.6 1842 L550.7 1841.1 L555.8 1839.7 L560.9 1837.9 L566 1835.4 L571.1 1832.3 L576.2 1828.6 L581.3 1824.4 L586.4 1819.9 L591.5 1815.5 L596.6 1811.5 L601.7 1808.4 L606.8 1806.3 L611.9 1805.6 L617 1806.3 L622.1 1808.4 L627.2 1811.5 L632.3 1815.5 L637.4 1819.9 L642.5 1824.4 L647.6 1828.6 L652.7 1832.3 L657.8 1835.4 L662.9 1837.9 L668 1839.7 L673.1 1841.1 L678.2 1842 L683.3 1842.7 L688.3 1843.1 L693.4 1843.3 L698.5 1843.4 L703.6 1843.5 L708.7 1843.6 L713.8 1843.6 L718.9 1843.6 L724 1843.6 L729.1 1843.6 L734.2 1843.6 L739.3 1843.6 L744.4 1843.6 L749.5 1843.6 L754.6 1843.6 L759.7 1843.6 L764.8 1843.6 L769.9 1843.6 L775 1843.6 L780.1 1843.6 L785.2 1843.6 L790.3 1843.6 L795.4 1843.6 L800.5 1843.6 L805.6 1843.6 L810.7 1843.6 L815.8 1843.6 L820.9 1843.6 L826 1843.6 L831 1843.6 L836.1 1843.6 L841.2 1843.6 L846.3 1843.6 L851.4 1843.6 L856.5 1843.6 L861.6 1843.6 L866.7 1843.6 L871.8 1843.6 L876.9 1843.6 L882 1843.6 L887.1 1843.6 L892.2 1843.6 L897.3 1843.6 L902.4 1843.6 L907.5 1843.6 L912.6 1843.6 L917.7 1843.6 L922.8 1843.6 L927.9 1843.6 L933 1843.6 L938.1 1843.6 L943.2 1843.6 L948.3 1843.6 L953.4 1843.6 L958.5 1843.6 L963.6 1843.6 L968.7 1843.6 L973.8 1843.6 L978.8 1843.6 L983.9 1843.6 L989 1843.6 L994.1 1843.6 L999.2 1843.6 L1004.3 1843.6 L1009.4 1843.6 L1014.5 1843.6 L1019.6 1843.6 L1024.7 1843.6 L1029.8 1843.6 L1034.9 1843.6 L1040 1843.6 L1045.1 1843.6 L1050.2 1843.6 L1055.3 1843.6 L1060.4 1843.6 L1065.5 1843.6 L1070.6 1843.6 L1075.7 1843.6 L1080.8 1843.6 L1085.9 1843.6 L1091 1843.6 L1096.1 1843.6 L1101.2 1843.6 L1106.3 1843.6 L1111.4 1843.6 L1116.5 1843.6 L1122 1843.6" stroke="#a878e0" stroke-width="6"/>
<path d="M416.7 1843.6 L421.8 1843.6 L426.9 1843.6 L432 1843.6 L437.1 1843.6 L442.2 1843.5 L447.3 1843.5 L452.4 1843.4 L457.4 1843.2 L462.5 1843 L467.6 1842.6 L472.7 1842.1 L477.8 1841.4 L482.9 1840.6 L488 1839.5 L493.1 1838.3 L498.2 1836.9 L503.3 1835.4 L508.4 1834 L513.5 1832.7 L518.6 1831.7 L523.7 1831 L528.8 1830.8 L533.9 1831 L539 1831.7 L544.1 1832.7 L549.2 1834 L554.3 1835.4 L559.4 1836.9 L564.5 1838.3 L569.6 1839.5 L574.7 1840.6 L579.8 1841.4 L584.9 1842.1 L590 1842.6 L595.1 1843 L600.2 1843.2 L605.2 1843.4 L610.3 1843.5 L615.4 1843.5 L620.5 1843.6 L625.6 1843.6 L630.7 1843.6 L635.8 1843.6 L640.9 1843.6 L640.9 1843.6 L416.7 1843.6 Z" fill="url(#gy)" stroke="none"/>
</g>
<g stroke="#000" fill="none" stroke-linecap="butt">
<path d="M99.4 1043.3 H1125.3 M99.4 1863.2 H1125.3" stroke-width="5.6"/>
<path d="M102.7 1043.3 V1879 M1122 1043.3 V1879" stroke-width="6.6"/>
<path d="M306.6 1863.2 V1879 M510.4 1863.2 V1879 M714.3 1863.2 V1879 M918.1 1863.2 V1879" stroke-width="6"/>
<path d="M204.6 1863.2 V1871.8 M408.5 1863.2 V1871.8 M612.4 1863.2 V1871.8 M816.2 1863.2 V1871.8 M1020.1 1863.2 V1871.8" stroke-width="6"/>
</g>
<path d="M102.7 1843.6 L105.8 1843.6 L110.9 1843.6 L116 1843.6 L121.1 1843.6 L126.2 1843.6 L131.3 1843.6 L136.4 1843.6 L141.5 1843.6 L146.6 1843.6 L151.7 1843.6 L156.8 1843.6 L161.9 1843.6 L166.9 1843.6 L172 1843.6 L177.1 1843.6 L182.2 1843.6 L187.3 1843.6 L192.4 1843.6 L197.5 1843.6 L202.6 1843.6 L207.7 1843.6 L212.8 1843.6 L217.9 1843.6 L223 1843.6 L228.1 1843.6 L233.2 1843.6 L238.3 1843.6 L243.4 1843.6 L248.5 1843.6 L253.6 1843.6 L258.7 1843.6 L263.8 1843.6 L268.9 1843.6 L274 1843.6 L279.1 1843.6 L284.2 1843.6 L289.3 1843.6 L294.4 1843.6 L299.5 1843.6 L304.6 1843.6 L309.7 1843.6 L314.7 1843.6 L319.8 1843.6 L324.9 1843.6 L330 1843.6 L335.1 1843.6 L340.2 1843.6 L345.3 1843.6 L350.4 1843.6 L355.5 1843.6 L360.6 1843.6 L365.7 1843.6 L370.8 1843.6 L375.9 1843.6 L381 1843.6 L386.1 1843.6 L391.2 1843.6 L396.3 1843.6 L401.4 1843.6 L406.5 1843.6 L411.6 1843.6 L416.7 1843.6 L421.8 1843.6 L426.9 1843.6 L432 1843.6 L437.1 1843.6 L442.2 1843.5 L447.3 1843.5 L452.4 1843.4 L457.4 1843.2 L462.5 1843 L467.6 1842.6 L472.7 1842.1 L477.8 1841.4 L482.9 1840.6 L488 1839.5 L493.1 1838.3 L498.2 1836.9 L503.3 1835.4 L508.4 1834 L513.5 1832.7 L518.6 1831.7 L523.7 1831 L528.8 1830.8 L533.9 1831 L539 1831.7 L544.1 1832.7 L549.2 1834 L554.3 1835.4 L559.4 1836.9 L564.5 1838.3 L569.6 1839.5 L574.7 1840.6 L579.8 1841.4 L584.9 1842.1 L590 1842.6 L595.1 1843 L600.2 1843.2 L605.2 1843.4 L610.3 1843.5 L615.4 1843.5 L620.5 1843.6 L625.6 1843.6 L630.7 1843.6 L635.8 1843.6 L640.9 1843.6 L646 1843.6 L651.1 1843.6 L656.2 1843.6 L661.3 1843.6 L666.4 1843.6 L671.5 1843.6 L676.6 1843.6 L681.7 1843.6 L686.8 1843.6 L691.9 1843.6 L697 1843.6 L702.1 1843.6 L707.2 1843.6 L712.3 1843.6 L717.4 1843.6 L722.5 1843.6 L727.6 1843.6 L732.7 1843.6 L737.8 1843.6 L742.9 1843.6 L747.9 1843.6 L753 1843.6 L758.1 1843.6 L763.2 1843.6 L768.3 1843.6 L773.4 1843.6 L778.5 1843.6 L783.6 1843.6 L788.7 1843.6 L793.8 1843.6 L798.9 1843.6 L804 1843.6 L809.1 1843.6 L814.2 1843.6 L819.3 1843.6 L824.4 1843.6 L829.5 1843.6 L834.6 1843.6 L839.7 1843.6 L844.8 1843.6 L849.9 1843.6 L855 1843.6 L860.1 1843.6 L865.2 1843.6 L870.3 1843.6 L875.4 1843.6 L880.5 1843.6 L885.6 1843.6 L890.7 1843.6 L895.7 1843.6 L900.8 1843.6 L905.9 1843.6 L911 1843.6 L916.1 1843.6 L921.2 1843.6 L926.3 1843.6 L931.4 1843.6 L936.5 1843.6 L941.6 1843.6 L946.7 1843.6 L951.8 1843.6 L956.9 1843.6 L962 1843.6 L967.1 1843.6 L972.2 1843.6 L977.3 1843.6 L982.4 1843.6 L987.5 1843.6 L992.6 1843.6 L997.7 1843.6 L1002.8 1843.6 L1007.9 1843.6 L1013 1843.6 L1018.1 1843.6 L1023.2 1843.6 L1028.3 1843.6 L1033.4 1843.6 L1038.5 1843.6 L1043.5 1843.6 L1048.6 1843.6 L1053.7 1843.6 L1058.8 1843.6 L1063.9 1843.6 L1069 1843.6 L1074.1 1843.6 L1079.2 1843.6 L1084.3 1843.6 L1089.4 1843.6 L1094.5 1843.6 L1099.6 1843.6 L1104.7 1843.6 L1109.8 1843.6 L1114.9 1843.6 L1120 1843.6 L1122 1843.6" fill="none" stroke="#cb9806" stroke-width="6" stroke-linejoin="round" stroke-linecap="butt"/>
<path d="M102.7 1843.6 H1122" fill="none" stroke="#cb9806" stroke-width="6"/>
<text class="tk" x="102.7" y="1923.2">−80</text>
<text class="tk" x="306.6" y="1923.2">−90</text>
<text class="tk" x="510.4" y="1923.2">−100</text>
<text class="tk" x="714.3" y="1923.2">−110</text>
<text class="tk" x="918.1" y="1923.2">−120</text>
<text class="tk" x="1122" y="1923.2">−130</text>
<text class="pl" x="878.2" y="1202" fill="#3cab6a">-112</text>
<text class="pl" x="920.8" y="1697.5" fill="#1e6ad8">-116</text>
<text class="pl" x="632.2" y="1752" fill="#a878e0">-105</text>
<text class="pl" x="519.2" y="1768.2" fill="#cb9806">-101</text>
<text class="pn" x="135.2" y="1137.5">(c)</text>
<text class="ax" text-anchor="middle" transform="translate(66 1453.2) rotate(-90)">Intensity (a.u.)</text>
<text class="dl" transform="translate(518.3 2006.6) scale(1.27 1)">δ</text>
<text class="ax" x="567.8" y="2006.3">(ppm)</text>
</g>
<g id="panel-d">
<g clip-path="url(#cpd)" fill="none" stroke-linejoin="round" stroke-linecap="round">
<path d="M1231.7 1862.2 C1233.4 1862 1238.9 1862.2 1241.9 1860.8 C1245 1859.5 1246.8 1855.1 1249.9 1854 C1253.1 1852.8 1257 1853.6 1260.7 1854 C1264.5 1854.3 1268.6 1855 1272.4 1855.9 C1276.3 1856.9 1280.2 1859.9 1284 1859.6 C1287.8 1859.4 1291.5 1855.7 1295.3 1854.4 C1299.2 1853 1303.2 1851.8 1307.1 1851.4 C1311 1851.1 1314.9 1851.3 1318.8 1852.4 C1322.7 1853.5 1326.7 1856.9 1330.6 1857.9 C1334.4 1858.9 1338.1 1858.9 1341.9 1858.3 C1345.8 1857.7 1349.7 1855.2 1353.7 1854.4 C1357.6 1853.5 1361.6 1853.6 1365.4 1853.4 C1369.2 1853.1 1372.8 1852.7 1376.6 1852.8 C1380.3 1852.9 1384.4 1854.5 1387.9 1853.8 C1391.4 1853.1 1394.3 1848.5 1397.7 1848.5 C1401.1 1848.5 1404.4 1853.9 1408.3 1853.8 C1412.1 1853.7 1416.9 1848.7 1420.6 1847.9 C1424.3 1847.1 1426.9 1847.5 1430.4 1848.9 C1433.8 1850.2 1437.3 1854.6 1441.1 1855.9 C1445 1857.3 1449.3 1857.2 1453.3 1856.9 C1457.2 1856.6 1461.2 1855.6 1465 1854.4 C1468.9 1853.1 1472.6 1850.7 1476.4 1849.5 C1480.1 1848.3 1483.7 1847.5 1487.5 1847.1 C1491.4 1846.7 1495.5 1847.6 1499.5 1847.1 C1503.4 1846.6 1507.3 1844.5 1511.2 1844 C1515.1 1843.5 1519 1843.6 1522.9 1844 C1526.8 1844.4 1531.1 1845 1534.7 1846.5 C1538.3 1848.1 1540.9 1853.3 1544.5 1853.4 C1548 1853.5 1552.3 1848 1556 1847.1 C1559.8 1846.2 1563.7 1846.4 1567 1848.1 C1570.2 1849.8 1572.7 1856.4 1575.6 1857.3 C1578.4 1858.2 1581.3 1855.7 1584 1853.4 C1586.7 1851 1588.8 1845.5 1591.8 1843.2 C1594.8 1840.9 1598.2 1840.7 1602 1839.7 C1605.7 1838.7 1610.5 1837.9 1614.3 1837.3 C1618.2 1836.7 1621.5 1836.2 1625.2 1836.1 C1629 1836.1 1632.9 1836.8 1637 1837.1 C1641.1 1837.4 1645.8 1837.6 1649.7 1837.7 C1653.6 1837.8 1656.7 1838 1660.5 1837.7 C1664.2 1837.4 1668.3 1836.6 1672.2 1836.1 C1676.1 1835.6 1680.1 1835.2 1684 1834.6 C1687.8 1833.9 1691.6 1833.1 1695.3 1832.2 C1699.1 1831.3 1702.7 1830.4 1706.5 1829.3 C1710.2 1828.1 1714.1 1826.8 1717.8 1825.4 C1721.6 1823.9 1725.1 1822 1729 1820.5 C1732.8 1818.9 1737.1 1816.6 1741.1 1816 C1745.1 1815.3 1749.2 1817.6 1753 1816.6 C1756.9 1815.5 1760.7 1812 1764.2 1809.7 C1767.7 1807.4 1770.5 1804.6 1774 1802.9 C1777.4 1801.1 1781.1 1801.4 1784.7 1799.3 C1788.4 1797.3 1792.6 1793.4 1795.9 1790.7 C1799.2 1788 1802.4 1786.1 1804.7 1783.3 C1807 1780.5 1808.2 1777.5 1809.8 1774.1 C1811.4 1770.7 1812.7 1766.5 1814.1 1762.7 C1815.5 1759 1816.9 1755.2 1818 1751.4 C1819.1 1747.6 1819.7 1743.7 1820.5 1739.8 C1821.4 1736 1822.1 1732.4 1822.9 1728.5 C1823.7 1724.6 1824.6 1720.3 1825.4 1716.4 C1826.3 1712.4 1827.3 1708.6 1828.2 1704.6 C1829.1 1700.6 1829.9 1696.3 1830.7 1692.3 C1831.6 1688.3 1832.4 1684.5 1833.3 1680.5 C1834.2 1676.6 1835.3 1672.7 1836.2 1668.8 C1837.1 1664.9 1837.3 1663.1 1838.4 1657.2 C1839.5 1651.3 1841.8 1641.1 1843.1 1633.2 C1844.4 1625.3 1845.2 1617.8 1846.3 1610 C1847.3 1602.2 1848.4 1594.9 1849.4 1586.7 C1850.4 1578.5 1851.4 1568.9 1852.4 1561.1 C1853.4 1553.3 1854.4 1545.8 1855.2 1540 C1855.9 1534.2 1856.4 1530.7 1857 1526 C1857.7 1521.3 1858.3 1516.7 1858.9 1512 C1859.5 1507.3 1860.1 1502.7 1860.7 1498 C1861.4 1493.3 1862 1488.7 1862.7 1484 C1863.3 1479.3 1864 1474.7 1864.6 1470 C1865.3 1465.3 1866 1460.7 1866.6 1456 C1867.1 1451.3 1867.6 1446.7 1868 1442 C1868.4 1437.3 1868.8 1432.7 1869.1 1428 C1869.5 1423.3 1869.8 1418.7 1870.2 1414 C1870.6 1409.3 1870.9 1404.7 1871.3 1400 C1871.7 1395.3 1872 1390.7 1872.4 1386 C1872.8 1381.3 1873.1 1376.7 1873.5 1372 C1873.8 1367.3 1874.2 1362.7 1874.6 1358 C1874.9 1353.3 1875.3 1348.7 1875.7 1344 C1876 1339.3 1876.4 1334.7 1876.8 1330 C1877.2 1325.3 1877.5 1320.7 1877.9 1316 C1878.3 1311.3 1878.7 1306.7 1879 1302 C1879.4 1297.3 1879.8 1292.7 1880.2 1288 C1880.6 1283.3 1881 1278.7 1881.3 1274 C1881.7 1269.3 1882.1 1264.7 1882.5 1260 C1882.9 1255.3 1883.3 1250.7 1883.8 1246 C1884.2 1241.3 1884.6 1236.7 1885 1232 C1885.4 1227.3 1885.9 1222.7 1886.3 1218 C1886.8 1213.3 1887.2 1208.7 1887.7 1204 C1888.1 1199.3 1888.6 1194.7 1889.1 1190 C1889.6 1185.3 1890.1 1180.7 1890.6 1176 C1891.1 1171.3 1891.7 1166.7 1892.2 1162 C1892.8 1157.3 1893.4 1152.7 1894 1148 C1894.6 1143.3 1895.3 1138.7 1896 1134 C1896.8 1129.3 1897.5 1124.7 1898.4 1120 C1899.4 1115.3 1900.9 1109.5 1901.8 1106 C1902.6 1102.5 1902.9 1098.8 1903.6 1098.8 C1904.3 1098.8 1904.9 1102.4 1905.9 1106 C1906.8 1109.6 1908.2 1115.4 1909.2 1120.2 C1910.2 1124.9 1910.9 1129.6 1911.7 1134.3 C1912.4 1139 1913.1 1143.8 1913.7 1148.5 C1914.4 1153.2 1915 1157.9 1915.6 1162.6 C1916.2 1167.4 1916.7 1172.1 1917.3 1176.8 C1917.8 1181.5 1918.3 1186.2 1918.9 1190.9 C1919.4 1195.7 1919.9 1200.4 1920.4 1205.1 C1920.8 1209.8 1921.3 1214.5 1921.8 1219.3 C1922.3 1224 1922.7 1228.7 1923.2 1233.4 C1923.6 1238.1 1924.1 1242.9 1924.5 1247.6 C1925 1252.3 1925.4 1257 1925.9 1261.7 C1926.3 1266.5 1926.7 1271.2 1927.1 1275.9 C1927.6 1280.6 1928 1285.3 1928.4 1290.1 C1928.9 1294.8 1929.3 1299.5 1929.7 1304.2 C1930.1 1308.9 1930.5 1313.6 1931 1318.4 C1931.4 1323.1 1931.8 1327.8 1932.4 1332.5 C1933 1337.2 1934 1342 1934.7 1346.7 C1935.5 1351.4 1936.3 1356.1 1937.1 1360.8 C1937.8 1365.6 1938.4 1369.1 1939.4 1375 C1940.4 1380.9 1942 1389.1 1943.2 1396.4 C1944.4 1403.8 1945.7 1411.5 1946.8 1419.1 C1947.9 1426.7 1948.9 1434.2 1950 1441.8 C1951.1 1449.4 1952.8 1458.2 1953.6 1464.5 C1954.4 1470.8 1953.9 1473 1954.6 1479.6 C1955.3 1486.2 1956.5 1496 1957.6 1504 C1958.7 1512 1959.9 1519.9 1961.1 1527.8 C1962.3 1535.7 1963.3 1543.5 1964.6 1551.3 C1965.9 1559.1 1967.4 1566.6 1968.8 1574.6 C1970.2 1582.5 1971.5 1590.9 1972.8 1599 C1974 1607.1 1975 1615.3 1976.3 1623.2 C1977.6 1631.1 1979.1 1636.7 1980.5 1646.5 C1981.9 1656.3 1983.5 1674.2 1984.5 1682.1 C1985.5 1690 1986 1689.7 1986.8 1693.8 C1987.5 1697.9 1988.1 1700.9 1989 1706.9 C1989.9 1712.9 1991.2 1724.2 1992.3 1730 C1993.3 1735.8 1994.3 1737.9 1995.3 1741.8 C1996.3 1745.7 1997.2 1749.5 1998.2 1753.5 C1999.2 1757.5 2000 1761.8 2001.1 1765.8 C2002.2 1769.8 2003.6 1773.8 2005 1777.6 C2006.4 1781.4 2008 1784.9 2009.5 1788.7 C2011 1792.5 2012 1796.7 2013.8 1800.5 C2015.6 1804.3 2018.2 1808.5 2020.3 1811.6 C2022.4 1814.7 2024.1 1816.1 2026.6 1819.1 C2029.1 1822.1 2032.4 1826.4 2035.5 1829.5 C2038.6 1832.6 2042.1 1835.5 2045.2 1837.7 C2048.2 1839.8 2050.2 1842.1 2053.6 1842.5 C2056.9 1843 2061.5 1840.4 2065.3 1840.2 C2069.1 1840 2072.7 1841.3 2076.5 1841.6 C2080.3 1841.8 2084.2 1842.1 2088.2 1841.6 C2092.2 1841 2096.5 1838.2 2100.5 1838.2 C2104.6 1838.2 2108.6 1840.3 2112.3 1841.6 C2115.9 1842.8 2118.9 1844.9 2122.5 1845.9 C2126 1846.8 2130 1847.3 2133.8 1847.4 C2137.6 1847.6 2141.4 1846.8 2145.4 1846.8 C2149.3 1846.9 2153.3 1848.4 2157.3 1847.8 C2161.2 1847.3 2165.1 1843.8 2169 1843.5 C2172.9 1843.2 2177 1844.4 2180.8 1846.1 C2184.6 1847.7 2188.2 1851.7 2191.9 1853.3 C2195.6 1854.9 2199.2 1855.4 2203.1 1855.9 C2207 1856.3 2211.5 1856 2215.4 1856.2 C2219.3 1856.5 2222.8 1857.4 2226.6 1857.2 C2230.4 1857 2234.6 1855.1 2238.3 1854.9 C2242 1854.6 2245 1855.8 2248.7 1855.9 C2252.4 1855.9 2258.5 1855.4 2260.4 1855.3" stroke="#4f4f4f" stroke-width="5.6" stroke-dasharray="0.01 11.8"/>
<path d="M1231.7 1851 L1236 1851 L1241.1 1851 L1246.2 1851 L1251.2 1851 L1256.3 1851 L1261.4 1851 L1266.5 1851 L1271.6 1851 L1276.7 1851 L1281.8 1851 L1286.9 1851 L1292 1851 L1297.1 1851 L1302.2 1851 L1307.3 1851 L1312.4 1851 L1317.5 1851 L1322.6 1851 L1327.7 1851 L1332.8 1851 L1337.9 1851 L1343 1851 L1348.1 1851 L1353.2 1851 L1358.3 1851 L1363.4 1851 L1368.5 1851 L1373.6 1851 L1378.7 1851 L1383.8 1851 L1388.9 1851 L1394 1851 L1399 1851 L1404.1 1851 L1409.2 1851 L1414.3 1851 L1419.4 1851 L1424.5 1851 L1429.6 1851 L1434.7 1851 L1439.8 1851 L1444.9 1851 L1450 1851 L1455.1 1851 L1460.2 1851 L1465.3 1851 L1470.4 1851 L1475.5 1851 L1480.6 1851 L1485.7 1851 L1490.8 1851 L1495.9 1851 L1501 1851 L1506.1 1851 L1511.2 1851 L1516.3 1851 L1521.4 1851 L1526.5 1851 L1531.6 1851 L1536.7 1851 L1541.7 1851 L1546.8 1851 L1551.9 1851 L1557 1851 L1562.1 1851 L1567.2 1850.9 L1572.3 1850.9 L1577.4 1850.8 L1582.5 1850.7 L1587.6 1850.5 L1592.7 1850.1 L1597.8 1849.6 L1602.9 1848.9 L1608 1848 L1613.1 1846.8 L1618.2 1845.4 L1623.3 1843.6 L1628.4 1841.8 L1633.5 1839.8 L1638.6 1837.9 L1643.7 1836.2 L1648.8 1834.8 L1653.9 1833.9 L1659 1833.5 L1664.1 1833.7 L1669.2 1834.2 L1674.3 1835 L1679.4 1835.7 L1684.5 1836.2 L1689.5 1836 L1694.6 1835.1 L1699.7 1833.1 L1704.8 1830 L1709.9 1826 L1715 1821.4 L1720.1 1816.4 L1725.2 1811.8 L1730.3 1808 L1735.4 1805.5 L1740.5 1804.6 L1745.6 1805.5 L1750.7 1808.1 L1755.8 1812.2 L1760.9 1817.1 L1766 1822.5 L1771.1 1827.9 L1776.2 1832.6 L1781.3 1836.5 L1786.4 1839.2 L1791.5 1840.4 L1796.6 1840 L1801.7 1837.8 L1806.8 1833.4 L1811.9 1826.3 L1817 1815.9 L1822.1 1801.6 L1827.2 1782.4 L1832.2 1757.7 L1837.3 1726.6 L1842.4 1688.7 L1847.5 1643.6 L1852.6 1591.5 L1857.7 1533.2 L1862.8 1470.1 L1867.9 1404 L1873 1337.5 L1878.1 1273.6 L1883.2 1215.5 L1888.3 1166.2 L1893.4 1128.6 L1898.5 1104.9 L1903.6 1096.6 L1908.7 1103.9 L1913.8 1126.3 L1918.9 1162 L1924 1208.5 L1929.1 1262.6 L1934.2 1320.7 L1939.3 1379.2 L1944.4 1435.2 L1949.5 1485.9 L1954.6 1529.9 L1959.7 1566.4 L1964.8 1595.8 L1969.9 1619.3 L1975 1638.4 L1980 1655.1 L1985.1 1670.9 L1990.2 1687.2 L1995.3 1704.6 L2000.4 1723.2 L2005.5 1742.5 L2010.6 1761.7 L2015.7 1779.9 L2020.8 1796.4 L2025.9 1810.5 L2031 1822.1 L2036.1 1831.2 L2041.2 1837.9 L2046.3 1842.7 L2051.4 1845.9 L2056.5 1848 L2061.6 1849.3 L2066.7 1850.1 L2071.8 1850.5 L2076.9 1850.8 L2082 1850.9 L2087.1 1850.9 L2092.2 1851 L2097.3 1851 L2102.4 1851 L2107.5 1851 L2112.6 1851 L2117.7 1851 L2122.7 1851 L2127.8 1851 L2132.9 1851 L2138 1851 L2143.1 1851 L2148.2 1851 L2153.3 1851 L2158.4 1851 L2163.5 1851 L2168.6 1851 L2173.7 1851 L2178.8 1851 L2183.9 1851 L2189 1851 L2194.1 1851 L2199.2 1851 L2204.3 1851 L2209.4 1851 L2214.5 1851 L2219.6 1851 L2224.7 1851 L2229.8 1851 L2234.9 1851 L2240 1851 L2245.1 1851 L2250.2 1851 L2251 1851" stroke="#f04040" stroke-width="5.5"/>
<path d="M1879 1851 L1884.1 1851 L1889.2 1850.9 L1894.3 1850.8 L1899.4 1850.6 L1904.5 1850.2 L1909.6 1849.5 L1914.6 1848.3 L1919.7 1846.4 L1924.8 1843.4 L1929.9 1839.1 L1935 1832.9 L1940.1 1824.7 L1945.2 1814.1 L1950.3 1801.4 L1955.4 1786.8 L1960.5 1771.2 L1965.6 1755.6 L1970.7 1741.4 L1975.8 1730 L1980.9 1722.6 L1986 1720 L1991.1 1722.6 L1996.2 1730 L2001.3 1741.4 L2006.4 1755.6 L2011.5 1771.2 L2016.6 1786.8 L2021.7 1801.4 L2026.8 1814.1 L2031.9 1824.7 L2037 1832.9 L2042.1 1839.1 L2047.2 1843.4 L2052.3 1846.4 L2057.4 1848.3 L2062.4 1849.5 L2067.5 1850.2 L2072.6 1850.6 L2077.7 1850.8 L2082.8 1850.9 L2087.9 1851 L2093 1851 L2093 1851 L1879 1851 Z" fill="url(#gb)" stroke="none"/>
<path d="M1231.7 1851 L1236.8 1851 L1241.9 1851 L1247 1851 L1252.1 1851 L1257.2 1851 L1262.3 1851 L1267.4 1851 L1272.5 1851 L1277.6 1851 L1282.7 1851 L1287.8 1851 L1292.9 1851 L1298 1851 L1303.1 1851 L1308.2 1851 L1313.3 1851 L1318.4 1851 L1323.5 1851 L1328.6 1851 L1333.6 1851 L1338.7 1851 L1343.8 1851 L1348.9 1851 L1354 1851 L1359.1 1851 L1364.2 1851 L1369.3 1851 L1374.4 1851 L1379.5 1851 L1384.6 1851 L1389.7 1851 L1394.8 1851 L1399.9 1851 L1405 1851 L1410.1 1851 L1415.2 1851 L1420.3 1851 L1425.4 1851 L1430.5 1851 L1435.6 1851 L1440.7 1851 L1445.8 1851 L1450.9 1851 L1456 1851 L1461.1 1851 L1466.2 1851 L1471.3 1851 L1476.4 1851 L1481.4 1851 L1486.5 1851 L1491.6 1851 L1496.7 1851 L1501.8 1851 L1506.9 1851 L1512 1851 L1517.1 1851 L1522.2 1851 L1527.3 1851 L1532.4 1851 L1537.5 1851 L1542.6 1851 L1547.7 1851 L1552.8 1851 L1557.9 1851 L1563 1851 L1568.1 1851 L1573.2 1851 L1578.3 1851 L1583.4 1851 L1588.5 1851 L1593.6 1851 L1598.7 1851 L1603.8 1851 L1608.9 1851 L1614 1851 L1619.1 1851 L1624.1 1851 L1629.2 1851 L1634.3 1851 L1639.4 1851 L1644.5 1851 L1649.6 1851 L1654.7 1851 L1659.8 1851 L1664.9 1851 L1670 1851 L1675.1 1851 L1680.2 1851 L1685.3 1851 L1690.4 1851 L1695.5 1851 L1700.6 1851 L1705.7 1851 L1710.8 1851 L1715.9 1851 L1721 1851 L1726.1 1851 L1731.2 1851 L1736.3 1851 L1741.4 1851 L1746.5 1851 L1751.6 1851 L1756.7 1851 L1761.8 1851 L1766.9 1851 L1771.9 1851 L1777 1851 L1782.1 1851 L1787.2 1851 L1792.3 1851 L1797.4 1851 L1802.5 1851 L1807.6 1851 L1812.7 1851 L1817.8 1851 L1822.9 1851 L1828 1851 L1833.1 1851 L1838.2 1851 L1843.3 1851 L1848.4 1851 L1853.5 1851 L1858.6 1851 L1863.7 1851 L1868.8 1851 L1873.9 1851 L1879 1851 L1884.1 1851 L1889.2 1850.9 L1894.3 1850.8 L1899.4 1850.6 L1904.5 1850.2 L1909.6 1849.5 L1914.6 1848.3 L1919.7 1846.4 L1924.8 1843.4 L1929.9 1839.1 L1935 1832.9 L1940.1 1824.7 L1945.2 1814.1 L1950.3 1801.4 L1955.4 1786.8 L1960.5 1771.2 L1965.6 1755.6 L1970.7 1741.4 L1975.8 1730 L1980.9 1722.6 L1986 1720 L1991.1 1722.6 L1996.2 1730 L2001.3 1741.4 L2006.4 1755.6 L2011.5 1771.2 L2016.6 1786.8 L2021.7 1801.4 L2026.8 1814.1 L2031.9 1824.7 L2037 1832.9 L2042.1 1839.1 L2047.2 1843.4 L2052.3 1846.4 L2057.4 1848.3 L2062.4 1849.5 L2067.5 1850.2 L2072.6 1850.6 L2077.7 1850.8 L2082.8 1850.9 L2087.9 1851 L2093 1851 L2098.1 1851 L2103.2 1851 L2108.3 1851 L2113.4 1851 L2118.5 1851 L2123.6 1851 L2128.7 1851 L2133.8 1851 L2138.9 1851 L2144 1851 L2149.1 1851 L2154.2 1851 L2159.3 1851 L2164.4 1851 L2169.5 1851 L2174.6 1851 L2179.7 1851 L2184.8 1851 L2189.9 1851 L2195 1851 L2200.1 1851 L2205.1 1851 L2210.2 1851 L2215.3 1851 L2220.4 1851 L2225.5 1851 L2230.6 1851 L2235.7 1851 L2240.8 1851 L2245.9 1851 L2251 1851" stroke="#1e6ad8" stroke-width="6"/>
<path d="M1760.9 1850.8 L1766 1850.7 L1771.1 1850.4 L1776.2 1850 L1781.3 1849.4 L1786.4 1848.3 L1791.5 1846.7 L1796.6 1844.2 L1801.7 1840.4 L1806.8 1834.9 L1811.9 1827.2 L1817 1816.4 L1822.1 1801.8 L1827.2 1782.6 L1832.2 1757.8 L1837.3 1726.7 L1842.4 1688.7 L1847.5 1643.6 L1852.6 1591.5 L1857.7 1533.2 L1862.8 1470.1 L1867.9 1404 L1873 1337.6 L1878.1 1273.7 L1883.2 1215.5 L1888.3 1166.3 L1893.4 1128.8 L1898.5 1105.3 L1903.6 1097.3 L1908.7 1105.3 L1913.8 1128.8 L1918.9 1166.3 L1924 1215.5 L1929.1 1273.7 L1934.2 1337.6 L1939.3 1404 L1944.4 1470.1 L1949.5 1533.2 L1954.6 1591.5 L1959.7 1643.6 L1964.8 1688.7 L1969.9 1726.7 L1975 1757.8 L1980 1782.6 L1985.1 1801.8 L1990.2 1816.4 L1995.3 1827.2 L2000.4 1834.9 L2005.5 1840.4 L2010.6 1844.2 L2015.7 1846.7 L2020.8 1848.3 L2025.9 1849.4 L2031 1850 L2036.1 1850.4 L2041.2 1850.7 L2046.3 1850.8 L2046.3 1851 L1760.9 1851 Z" fill="url(#gg)" stroke="none"/>
<path d="M1231.7 1851 L1236 1851 L1241.1 1851 L1246.2 1851 L1251.2 1851 L1256.3 1851 L1261.4 1851 L1266.5 1851 L1271.6 1851 L1276.7 1851 L1281.8 1851 L1286.9 1851 L1292 1851 L1297.1 1851 L1302.2 1851 L1307.3 1851 L1312.4 1851 L1317.5 1851 L1322.6 1851 L1327.7 1851 L1332.8 1851 L1337.9 1851 L1343 1851 L1348.1 1851 L1353.2 1851 L1358.3 1851 L1363.4 1851 L1368.5 1851 L1373.6 1851 L1378.7 1851 L1383.8 1851 L1388.9 1851 L1394 1851 L1399 1851 L1404.1 1851 L1409.2 1851 L1414.3 1851 L1419.4 1851 L1424.5 1851 L1429.6 1851 L1434.7 1851 L1439.8 1851 L1444.9 1851 L1450 1851 L1455.1 1851 L1460.2 1851 L1465.3 1851 L1470.4 1851 L1475.5 1851 L1480.6 1851 L1485.7 1851 L1490.8 1851 L1495.9 1851 L1501 1851 L1506.1 1851 L1511.2 1851 L1516.3 1851 L1521.4 1851 L1526.5 1851 L1531.6 1851 L1536.7 1851 L1541.7 1851 L1546.8 1851 L1551.9 1851 L1557 1851 L1562.1 1851 L1567.2 1851 L1572.3 1851 L1577.4 1851 L1582.5 1851 L1587.6 1851 L1592.7 1851 L1597.8 1851 L1602.9 1851 L1608 1851 L1613.1 1851 L1618.2 1851 L1623.3 1851 L1628.4 1851 L1633.5 1851 L1638.6 1851 L1643.7 1851 L1648.8 1851 L1653.9 1851 L1659 1851 L1664.1 1851 L1669.2 1851 L1674.3 1851 L1679.4 1851 L1684.5 1851 L1689.5 1851 L1694.6 1851 L1699.7 1851 L1704.8 1851 L1709.9 1851 L1715 1851 L1720.1 1851 L1725.2 1851 L1730.3 1851 L1735.4 1851 L1740.5 1851 L1745.6 1851 L1750.7 1850.9 L1755.8 1850.9 L1760.9 1850.8 L1766 1850.7 L1771.1 1850.4 L1776.2 1850 L1781.3 1849.4 L1786.4 1848.3 L1791.5 1846.7 L1796.6 1844.2 L1801.7 1840.4 L1806.8 1834.9 L1811.9 1827.2 L1817 1816.4 L1822.1 1801.8 L1827.2 1782.6 L1832.2 1757.8 L1837.3 1726.7 L1842.4 1688.7 L1847.5 1643.6 L1852.6 1591.5 L1857.7 1533.2 L1862.8 1470.1 L1867.9 1404 L1873 1337.6 L1878.1 1273.7 L1883.2 1215.5 L1888.3 1166.3 L1893.4 1128.8 L1898.5 1105.3 L1903.6 1097.3 L1908.7 1105.3 L1913.8 1128.8 L1918.9 1166.3 L1924 1215.5 L1929.1 1273.7 L1934.2 1337.6 L1939.3 1404 L1944.4 1470.1 L1949.5 1533.2 L1954.6 1591.5 L1959.7 1643.6 L1964.8 1688.7 L1969.9 1726.7 L1975 1757.8 L1980 1782.6 L1985.1 1801.8 L1990.2 1816.4 L1995.3 1827.2 L2000.4 1834.9 L2005.5 1840.4 L2010.6 1844.2 L2015.7 1846.7 L2020.8 1848.3 L2025.9 1849.4 L2031 1850 L2036.1 1850.4 L2041.2 1850.7 L2046.3 1850.8 L2051.4 1850.9 L2056.5 1850.9 L2061.6 1851 L2066.7 1851 L2071.8 1851 L2076.9 1851 L2082 1851 L2087.1 1851 L2092.2 1851 L2097.3 1851 L2102.4 1851 L2107.5 1851 L2112.6 1851 L2117.7 1851 L2122.7 1851 L2127.8 1851 L2132.9 1851 L2138 1851 L2143.1 1851 L2148.2 1851 L2153.3 1851 L2158.4 1851 L2163.5 1851 L2168.6 1851 L2173.7 1851 L2178.8 1851 L2183.9 1851 L2189 1851 L2194.1 1851 L2199.2 1851 L2204.3 1851 L2209.4 1851 L2214.5 1851 L2219.6 1851 L2224.7 1851 L2229.8 1851 L2234.9 1851 L2240 1851 L2245.1 1851 L2250.2 1851 L2251 1851" stroke="#3cab6a" stroke-width="6"/>
<path d="M1638.8 1851 L1643.9 1851 L1649 1850.9 L1654.1 1850.9 L1659.2 1850.7 L1664.3 1850.5 L1669.3 1850.1 L1674.4 1849.5 L1679.5 1848.5 L1684.6 1847 L1689.7 1844.8 L1694.8 1842 L1699.9 1838.3 L1705 1833.8 L1710.1 1828.6 L1715.2 1823.1 L1720.3 1817.5 L1725.4 1812.5 L1730.5 1808.4 L1735.6 1805.7 L1740.7 1804.8 L1745.8 1805.7 L1750.9 1808.4 L1756 1812.5 L1761.1 1817.5 L1766.2 1823.1 L1771.3 1828.6 L1776.4 1833.8 L1781.5 1838.3 L1786.6 1842 L1791.7 1844.8 L1796.8 1847 L1801.9 1848.5 L1807 1849.5 L1812.1 1850.1 L1817.1 1850.5 L1822.2 1850.7 L1827.3 1850.9 L1832.4 1850.9 L1837.5 1851 L1842.6 1851 L1842.6 1851 L1638.8 1851 Z" fill="url(#gp)" stroke="none"/>
<path d="M1231.7 1851 L1236.1 1851 L1241.2 1851 L1246.3 1851 L1251.4 1851 L1256.5 1851 L1261.6 1851 L1266.7 1851 L1271.8 1851 L1276.9 1851 L1282 1851 L1287.1 1851 L1292.2 1851 L1297.3 1851 L1302.4 1851 L1307.5 1851 L1312.6 1851 L1317.7 1851 L1322.8 1851 L1327.9 1851 L1333 1851 L1338.1 1851 L1343.2 1851 L1348.3 1851 L1353.4 1851 L1358.5 1851 L1363.6 1851 L1368.7 1851 L1373.8 1851 L1378.8 1851 L1383.9 1851 L1389 1851 L1394.1 1851 L1399.2 1851 L1404.3 1851 L1409.4 1851 L1414.5 1851 L1419.6 1851 L1424.7 1851 L1429.8 1851 L1434.9 1851 L1440 1851 L1445.1 1851 L1450.2 1851 L1455.3 1851 L1460.4 1851 L1465.5 1851 L1470.6 1851 L1475.7 1851 L1480.8 1851 L1485.9 1851 L1491 1851 L1496.1 1851 L1501.2 1851 L1506.3 1851 L1511.4 1851 L1516.5 1851 L1521.6 1851 L1526.6 1851 L1531.7 1851 L1536.8 1851 L1541.9 1851 L1547 1851 L1552.1 1851 L1557.2 1851 L1562.3 1851 L1567.4 1851 L1572.5 1851 L1577.6 1851 L1582.7 1851 L1587.8 1851 L1592.9 1851 L1598 1851 L1603.1 1851 L1608.2 1851 L1613.3 1851 L1618.4 1851 L1623.5 1851 L1628.6 1851 L1633.7 1851 L1638.8 1851 L1643.9 1851 L1649 1850.9 L1654.1 1850.9 L1659.2 1850.7 L1664.3 1850.5 L1669.3 1850.1 L1674.4 1849.5 L1679.5 1848.5 L1684.6 1847 L1689.7 1844.8 L1694.8 1842 L1699.9 1838.3 L1705 1833.8 L1710.1 1828.6 L1715.2 1823.1 L1720.3 1817.5 L1725.4 1812.5 L1730.5 1808.4 L1735.6 1805.7 L1740.7 1804.8 L1745.8 1805.7 L1750.9 1808.4 L1756 1812.5 L1761.1 1817.5 L1766.2 1823.1 L1771.3 1828.6 L1776.4 1833.8 L1781.5 1838.3 L1786.6 1842 L1791.7 1844.8 L1796.8 1847 L1801.9 1848.5 L1807 1849.5 L1812.1 1850.1 L1817.1 1850.5 L1822.2 1850.7 L1827.3 1850.9 L1832.4 1850.9 L1837.5 1851 L1842.6 1851 L1847.7 1851 L1852.8 1851 L1857.9 1851 L1863 1851 L1868.1 1851 L1873.2 1851 L1878.3 1851 L1883.4 1851 L1888.5 1851 L1893.6 1851 L1898.7 1851 L1903.8 1851 L1908.9 1851 L1914 1851 L1919.1 1851 L1924.2 1851 L1929.3 1851 L1934.4 1851 L1939.5 1851 L1944.6 1851 L1949.7 1851 L1954.8 1851 L1959.8 1851 L1964.9 1851 L1970 1851 L1975.1 1851 L1980.2 1851 L1985.3 1851 L1990.4 1851 L1995.5 1851 L2000.6 1851 L2005.7 1851 L2010.8 1851 L2015.9 1851 L2021 1851 L2026.1 1851 L2031.2 1851 L2036.3 1851 L2041.4 1851 L2046.5 1851 L2051.6 1851 L2056.7 1851 L2061.8 1851 L2066.9 1851 L2072 1851 L2077.1 1851 L2082.2 1851 L2087.3 1851 L2092.4 1851 L2097.5 1851 L2102.6 1851 L2107.6 1851 L2112.7 1851 L2117.8 1851 L2122.9 1851 L2128 1851 L2133.1 1851 L2138.2 1851 L2143.3 1851 L2148.4 1851 L2153.5 1851 L2158.6 1851 L2163.7 1851 L2168.8 1851 L2173.9 1851 L2179 1851 L2184.1 1851 L2189.2 1851 L2194.3 1851 L2199.4 1851 L2204.5 1851 L2209.6 1851 L2214.7 1851 L2219.8 1851 L2224.9 1851 L2230 1851 L2235.1 1851 L2240.2 1851 L2245.3 1851 L2250.3 1851 L2251 1851" stroke="#a878e0" stroke-width="6"/>
<path d="M1546.4 1851 L1551.5 1851 L1556.6 1851 L1561.7 1851 L1566.8 1850.9 L1571.9 1850.9 L1577 1850.8 L1582.1 1850.7 L1587.1 1850.5 L1592.2 1850.2 L1597.3 1849.7 L1602.4 1849 L1607.5 1848.1 L1612.6 1846.9 L1617.7 1845.5 L1622.8 1843.8 L1627.9 1841.9 L1633 1840 L1638.1 1838.1 L1643.2 1836.3 L1648.3 1835 L1653.4 1834.1 L1658.5 1833.8 L1663.6 1834.1 L1668.7 1835 L1673.8 1836.3 L1678.9 1838.1 L1684 1840 L1689.1 1841.9 L1694.2 1843.8 L1699.3 1845.5 L1704.4 1846.9 L1709.5 1848.1 L1714.6 1849 L1719.7 1849.7 L1724.8 1850.2 L1729.9 1850.5 L1734.9 1850.7 L1740 1850.8 L1745.1 1850.9 L1750.2 1850.9 L1755.3 1851 L1760.4 1851 L1765.5 1851 L1770.6 1851 L1770.6 1851 L1546.4 1851 Z" fill="url(#gy)" stroke="none"/>
</g>
<g stroke="#000" fill="none" stroke-linecap="butt">
<path d="M1228.4 1043.3 H2254.3 M1228.4 1863.2 H2254.3" stroke-width="5.6"/>
<path d="M1231.7 1043.3 V1879 M2251 1043.3 V1879" stroke-width="6.6"/>
<path d="M1435.6 1863.2 V1879 M1639.4 1863.2 V1879 M1843.3 1863.2 V1879 M2047.1 1863.2 V1879" stroke-width="6"/>
<path d="M1333.6 1863.2 V1871.8 M1537.5 1863.2 V1871.8 M1741.3 1863.2 V1871.8 M1945.2 1863.2 V1871.8 M2149.1 1863.2 V1871.8" stroke-width="6"/>
</g>
<path d="M1231.7 1851 L1235.5 1851 L1240.6 1851 L1245.7 1851 L1250.8 1851 L1255.9 1851 L1261 1851 L1266.1 1851 L1271.2 1851 L1276.3 1851 L1281.4 1851 L1286.5 1851 L1291.6 1851 L1296.6 1851 L1301.7 1851 L1306.8 1851 L1311.9 1851 L1317 1851 L1322.1 1851 L1327.2 1851 L1332.3 1851 L1337.4 1851 L1342.5 1851 L1347.6 1851 L1352.7 1851 L1357.8 1851 L1362.9 1851 L1368 1851 L1373.1 1851 L1378.2 1851 L1383.3 1851 L1388.4 1851 L1393.5 1851 L1398.6 1851 L1403.7 1851 L1408.8 1851 L1413.9 1851 L1419 1851 L1424.1 1851 L1429.2 1851 L1434.3 1851 L1439.4 1851 L1444.4 1851 L1449.5 1851 L1454.6 1851 L1459.7 1851 L1464.8 1851 L1469.9 1851 L1475 1851 L1480.1 1851 L1485.2 1851 L1490.3 1851 L1495.4 1851 L1500.5 1851 L1505.6 1851 L1510.7 1851 L1515.8 1851 L1520.9 1851 L1526 1851 L1531.1 1851 L1536.2 1851 L1541.3 1851 L1546.4 1851 L1551.5 1851 L1556.6 1851 L1561.7 1851 L1566.8 1850.9 L1571.9 1850.9 L1577 1850.8 L1582.1 1850.7 L1587.1 1850.5 L1592.2 1850.2 L1597.3 1849.7 L1602.4 1849 L1607.5 1848.1 L1612.6 1846.9 L1617.7 1845.5 L1622.8 1843.8 L1627.9 1841.9 L1633 1840 L1638.1 1838.1 L1643.2 1836.3 L1648.3 1835 L1653.4 1834.1 L1658.5 1833.8 L1663.6 1834.1 L1668.7 1835 L1673.8 1836.3 L1678.9 1838.1 L1684 1840 L1689.1 1841.9 L1694.2 1843.8 L1699.3 1845.5 L1704.4 1846.9 L1709.5 1848.1 L1714.6 1849 L1719.7 1849.7 L1724.8 1850.2 L1729.9 1850.5 L1734.9 1850.7 L1740 1850.8 L1745.1 1850.9 L1750.2 1850.9 L1755.3 1851 L1760.4 1851 L1765.5 1851 L1770.6 1851 L1775.7 1851 L1780.8 1851 L1785.9 1851 L1791 1851 L1796.1 1851 L1801.2 1851 L1806.3 1851 L1811.4 1851 L1816.5 1851 L1821.6 1851 L1826.7 1851 L1831.8 1851 L1836.9 1851 L1842 1851 L1847.1 1851 L1852.2 1851 L1857.3 1851 L1862.4 1851 L1867.5 1851 L1872.6 1851 L1877.6 1851 L1882.7 1851 L1887.8 1851 L1892.9 1851 L1898 1851 L1903.1 1851 L1908.2 1851 L1913.3 1851 L1918.4 1851 L1923.5 1851 L1928.6 1851 L1933.7 1851 L1938.8 1851 L1943.9 1851 L1949 1851 L1954.1 1851 L1959.2 1851 L1964.3 1851 L1969.4 1851 L1974.5 1851 L1979.6 1851 L1984.7 1851 L1989.8 1851 L1994.9 1851 L2000 1851 L2005.1 1851 L2010.2 1851 L2015.3 1851 L2020.4 1851 L2025.4 1851 L2030.5 1851 L2035.6 1851 L2040.7 1851 L2045.8 1851 L2050.9 1851 L2056 1851 L2061.1 1851 L2066.2 1851 L2071.3 1851 L2076.4 1851 L2081.5 1851 L2086.6 1851 L2091.7 1851 L2096.8 1851 L2101.9 1851 L2107 1851 L2112.1 1851 L2117.2 1851 L2122.3 1851 L2127.4 1851 L2132.5 1851 L2137.6 1851 L2142.7 1851 L2147.8 1851 L2152.9 1851 L2158 1851 L2163.1 1851 L2168.2 1851 L2173.2 1851 L2178.3 1851 L2183.4 1851 L2188.5 1851 L2193.6 1851 L2198.7 1851 L2203.8 1851 L2208.9 1851 L2214 1851 L2219.1 1851 L2224.2 1851 L2229.3 1851 L2234.4 1851 L2239.5 1851 L2244.6 1851 L2249.7 1851 L2251 1851" fill="none" stroke="#cb9806" stroke-width="6" stroke-linejoin="round" stroke-linecap="butt"/>
<path d="M1231.7 1851 H2251" fill="none" stroke="#cb9806" stroke-width="6"/>
<text class="tk" x="1231.7" y="1923.2">−80</text>
<text class="tk" x="1435.6" y="1923.2">−90</text>
<text class="tk" x="1639.4" y="1923.2">−100</text>
<text class="tk" x="1843.3" y="1923.2">−110</text>
<text class="tk" x="2047.1" y="1923.2">−120</text>
<text class="tk" x="2251" y="1923.2">−130</text>
<text class="pl" x="2000.2" y="1181.4" fill="#3cab6a">-112</text>
<text class="pl" x="2043" y="1677.3" fill="#1e6ad8">-116</text>
<text class="pl" x="1753.8" y="1731.6" fill="#a878e0">-105</text>
<text class="pl" x="1640.4" y="1747.5" fill="#cb9806">-101</text>
<text class="pn" x="1264.2" y="1137.5">(d)</text>
<text class="ax" text-anchor="middle" transform="translate(1195 1453.2) rotate(-90)">Intensity (a.u.)</text>
<text class="dl" transform="translate(1647.3 2006.6) scale(1.27 1)">δ</text>
<text class="ax" x="1696.8" y="2006.3">(ppm)</text>
</g>
</svg></body></html>
